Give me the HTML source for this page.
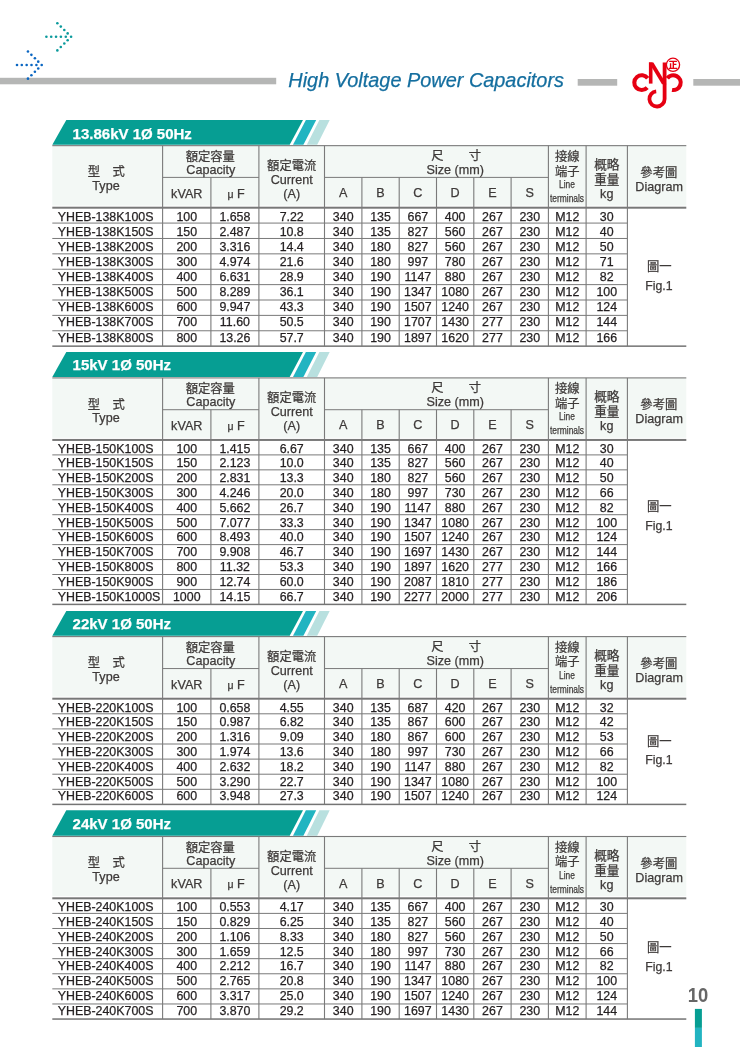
<!DOCTYPE html>
<html lang="zh-Hant"><head><meta charset="utf-8"><title>High Voltage Power Capacitors</title>
<style>
html,body{margin:0;padding:0;background:#fff;}
body{width:740px;height:1047px;overflow:hidden;position:relative;font-family:"Liberation Sans", "Noto Sans CJK TC", sans-serif;}
#pg div{-webkit-text-stroke:0.25px currentColor;}
#pg{position:absolute;left:0;top:0;width:740px;height:1047px;overflow:hidden;background:#fff;will-change:transform;}
</style></head><body><div id="pg">
<svg style="position:absolute;left:0;top:0" width="740" height="1047" viewBox="0 0 740 1047">
<rect x="0.00" y="77.80" width="276.20" height="6.50" fill="#b5b6b5"/>
<rect x="577.70" y="79.00" width="39.50" height="6.70" fill="#b5b6b5"/>
<rect x="693.30" y="79.00" width="46.70" height="6.70" fill="#b5b6b5"/>
<polygon points="66.3,119.90 303,119.90 289.7,144.85 52.3,144.85" fill="#069e93"/><polygon points="305.9,119.90 316.2,119.90 303.4,144.85 293,144.85" fill="#22b4c1"/><polygon points="319.4,119.90 329.7,119.90 317.2,144.85 306.8,144.85" fill="#b8e0df"/>
<rect x="52.30" y="145.65" width="634.00" height="59.90" fill="#f3f8f5"/>
<rect x="52.30" y="145.10" width="634.00" height="1.10" fill="#7a7a7a"/>
<rect x="162.60" y="176.90" width="96.30" height="1.00" fill="#7a7a7a"/>
<rect x="324.50" y="176.90" width="223.90" height="1.00" fill="#7a7a7a"/>
<rect x="52.30" y="206.70" width="634.00" height="2.00" fill="#787878"/>
<rect x="52.30" y="222.58" width="575.10" height="1.00" fill="#7a7a7a"/>
<rect x="52.30" y="237.97" width="575.10" height="1.00" fill="#7a7a7a"/>
<rect x="52.30" y="253.35" width="575.10" height="1.00" fill="#7a7a7a"/>
<rect x="52.30" y="268.73" width="575.10" height="1.00" fill="#7a7a7a"/>
<rect x="52.30" y="284.12" width="575.10" height="1.00" fill="#7a7a7a"/>
<rect x="52.30" y="299.50" width="575.10" height="1.00" fill="#7a7a7a"/>
<rect x="52.30" y="314.88" width="575.10" height="1.00" fill="#7a7a7a"/>
<rect x="52.30" y="330.27" width="575.10" height="1.00" fill="#7a7a7a"/>
<rect x="52.30" y="345.40" width="634.00" height="1.50" fill="#747474"/>
<rect x="162.05" y="145.65" width="1.10" height="200.50" fill="#7a7a7a"/>
<rect x="210.35" y="177.40" width="1.10" height="168.75" fill="#7a7a7a"/>
<rect x="258.35" y="145.65" width="1.10" height="200.50" fill="#7a7a7a"/>
<rect x="323.95" y="145.65" width="1.10" height="200.50" fill="#7a7a7a"/>
<rect x="361.35" y="177.40" width="1.10" height="168.75" fill="#7a7a7a"/>
<rect x="398.65" y="177.40" width="1.10" height="168.75" fill="#7a7a7a"/>
<rect x="435.95" y="177.40" width="1.10" height="168.75" fill="#7a7a7a"/>
<rect x="473.25" y="177.40" width="1.10" height="168.75" fill="#7a7a7a"/>
<rect x="510.55" y="177.40" width="1.10" height="168.75" fill="#7a7a7a"/>
<rect x="547.85" y="145.65" width="1.10" height="200.50" fill="#7a7a7a"/>
<rect x="585.55" y="145.65" width="1.10" height="200.50" fill="#7a7a7a"/>
<rect x="626.85" y="145.65" width="1.10" height="200.50" fill="#7a7a7a"/>
<polygon points="66.3,351.90 303,351.90 289.7,377.00 52.3,377.00" fill="#069e93"/><polygon points="305.9,351.90 316.2,351.90 303.4,377.00 293,377.00" fill="#22b4c1"/><polygon points="319.4,351.90 329.7,351.90 317.2,377.00 306.8,377.00" fill="#b8e0df"/>
<rect x="52.30" y="377.90" width="634.00" height="59.90" fill="#f3f8f5"/>
<rect x="52.30" y="377.35" width="634.00" height="1.10" fill="#7a7a7a"/>
<rect x="162.60" y="409.20" width="96.30" height="1.00" fill="#7a7a7a"/>
<rect x="324.50" y="409.20" width="223.90" height="1.00" fill="#7a7a7a"/>
<rect x="52.30" y="438.95" width="634.00" height="2.00" fill="#787878"/>
<rect x="52.30" y="454.40" width="575.10" height="1.00" fill="#7a7a7a"/>
<rect x="52.30" y="469.35" width="575.10" height="1.00" fill="#7a7a7a"/>
<rect x="52.30" y="484.30" width="575.10" height="1.00" fill="#7a7a7a"/>
<rect x="52.30" y="499.25" width="575.10" height="1.00" fill="#7a7a7a"/>
<rect x="52.30" y="514.20" width="575.10" height="1.00" fill="#7a7a7a"/>
<rect x="52.30" y="529.15" width="575.10" height="1.00" fill="#7a7a7a"/>
<rect x="52.30" y="544.10" width="575.10" height="1.00" fill="#7a7a7a"/>
<rect x="52.30" y="559.05" width="575.10" height="1.00" fill="#7a7a7a"/>
<rect x="52.30" y="574.00" width="575.10" height="1.00" fill="#7a7a7a"/>
<rect x="52.30" y="588.95" width="575.10" height="1.00" fill="#7a7a7a"/>
<rect x="52.30" y="603.65" width="634.00" height="1.50" fill="#747474"/>
<rect x="162.05" y="377.90" width="1.10" height="226.50" fill="#7a7a7a"/>
<rect x="210.35" y="409.70" width="1.10" height="194.70" fill="#7a7a7a"/>
<rect x="258.35" y="377.90" width="1.10" height="226.50" fill="#7a7a7a"/>
<rect x="323.95" y="377.90" width="1.10" height="226.50" fill="#7a7a7a"/>
<rect x="361.35" y="409.70" width="1.10" height="194.70" fill="#7a7a7a"/>
<rect x="398.65" y="409.70" width="1.10" height="194.70" fill="#7a7a7a"/>
<rect x="435.95" y="409.70" width="1.10" height="194.70" fill="#7a7a7a"/>
<rect x="473.25" y="409.70" width="1.10" height="194.70" fill="#7a7a7a"/>
<rect x="510.55" y="409.70" width="1.10" height="194.70" fill="#7a7a7a"/>
<rect x="547.85" y="377.90" width="1.10" height="226.50" fill="#7a7a7a"/>
<rect x="585.55" y="377.90" width="1.10" height="226.50" fill="#7a7a7a"/>
<rect x="626.85" y="377.90" width="1.10" height="226.50" fill="#7a7a7a"/>
<polygon points="66.3,610.90 303,610.90 289.7,635.80 52.3,635.80" fill="#069e93"/><polygon points="305.9,610.90 316.2,610.90 303.4,635.80 293,635.80" fill="#22b4c1"/><polygon points="319.4,610.90 329.7,610.90 317.2,635.80 306.8,635.80" fill="#b8e0df"/>
<rect x="52.30" y="636.60" width="634.00" height="59.95" fill="#f3f8f5"/>
<rect x="52.30" y="636.05" width="634.00" height="1.10" fill="#7a7a7a"/>
<rect x="162.60" y="668.05" width="96.30" height="1.00" fill="#7a7a7a"/>
<rect x="324.50" y="668.05" width="223.90" height="1.00" fill="#7a7a7a"/>
<rect x="52.30" y="697.70" width="634.00" height="2.00" fill="#787878"/>
<rect x="52.30" y="713.30" width="575.10" height="1.00" fill="#7a7a7a"/>
<rect x="52.30" y="728.40" width="575.10" height="1.00" fill="#7a7a7a"/>
<rect x="52.30" y="743.50" width="575.10" height="1.00" fill="#7a7a7a"/>
<rect x="52.30" y="758.60" width="575.10" height="1.00" fill="#7a7a7a"/>
<rect x="52.30" y="773.70" width="575.10" height="1.00" fill="#7a7a7a"/>
<rect x="52.30" y="788.80" width="575.10" height="1.00" fill="#7a7a7a"/>
<rect x="52.30" y="803.65" width="634.00" height="1.50" fill="#747474"/>
<rect x="162.05" y="636.60" width="1.10" height="167.80" fill="#7a7a7a"/>
<rect x="210.35" y="668.55" width="1.10" height="135.85" fill="#7a7a7a"/>
<rect x="258.35" y="636.60" width="1.10" height="167.80" fill="#7a7a7a"/>
<rect x="323.95" y="636.60" width="1.10" height="167.80" fill="#7a7a7a"/>
<rect x="361.35" y="668.55" width="1.10" height="135.85" fill="#7a7a7a"/>
<rect x="398.65" y="668.55" width="1.10" height="135.85" fill="#7a7a7a"/>
<rect x="435.95" y="668.55" width="1.10" height="135.85" fill="#7a7a7a"/>
<rect x="473.25" y="668.55" width="1.10" height="135.85" fill="#7a7a7a"/>
<rect x="510.55" y="668.55" width="1.10" height="135.85" fill="#7a7a7a"/>
<rect x="547.85" y="636.60" width="1.10" height="167.80" fill="#7a7a7a"/>
<rect x="585.55" y="636.60" width="1.10" height="167.80" fill="#7a7a7a"/>
<rect x="626.85" y="636.60" width="1.10" height="167.80" fill="#7a7a7a"/>
<polygon points="66.3,810.30 303,810.30 289.7,835.75 52.3,835.75" fill="#069e93"/><polygon points="305.9,810.30 316.2,810.30 303.4,835.75 293,835.75" fill="#22b4c1"/><polygon points="319.4,810.30 329.7,810.30 317.2,835.75 306.8,835.75" fill="#b8e0df"/>
<rect x="52.30" y="836.50" width="634.00" height="59.65" fill="#f3f8f5"/>
<rect x="52.30" y="835.95" width="634.00" height="1.10" fill="#7a7a7a"/>
<rect x="162.60" y="867.80" width="96.30" height="1.00" fill="#7a7a7a"/>
<rect x="324.50" y="867.80" width="223.90" height="1.00" fill="#7a7a7a"/>
<rect x="52.30" y="897.30" width="634.00" height="2.00" fill="#787878"/>
<rect x="52.30" y="912.89" width="575.10" height="1.00" fill="#7a7a7a"/>
<rect x="52.30" y="927.99" width="575.10" height="1.00" fill="#7a7a7a"/>
<rect x="52.30" y="943.08" width="575.10" height="1.00" fill="#7a7a7a"/>
<rect x="52.30" y="958.17" width="575.10" height="1.00" fill="#7a7a7a"/>
<rect x="52.30" y="973.27" width="575.10" height="1.00" fill="#7a7a7a"/>
<rect x="52.30" y="988.36" width="575.10" height="1.00" fill="#7a7a7a"/>
<rect x="52.30" y="1003.46" width="575.10" height="1.00" fill="#7a7a7a"/>
<rect x="52.30" y="1018.30" width="634.00" height="1.50" fill="#747474"/>
<rect x="162.05" y="836.50" width="1.10" height="182.55" fill="#7a7a7a"/>
<rect x="210.35" y="868.30" width="1.10" height="150.75" fill="#7a7a7a"/>
<rect x="258.35" y="836.50" width="1.10" height="182.55" fill="#7a7a7a"/>
<rect x="323.95" y="836.50" width="1.10" height="182.55" fill="#7a7a7a"/>
<rect x="361.35" y="868.30" width="1.10" height="150.75" fill="#7a7a7a"/>
<rect x="398.65" y="868.30" width="1.10" height="150.75" fill="#7a7a7a"/>
<rect x="435.95" y="868.30" width="1.10" height="150.75" fill="#7a7a7a"/>
<rect x="473.25" y="868.30" width="1.10" height="150.75" fill="#7a7a7a"/>
<rect x="510.55" y="868.30" width="1.10" height="150.75" fill="#7a7a7a"/>
<rect x="547.85" y="836.50" width="1.10" height="182.55" fill="#7a7a7a"/>
<rect x="585.55" y="836.50" width="1.10" height="182.55" fill="#7a7a7a"/>
<rect x="626.85" y="836.50" width="1.10" height="182.55" fill="#7a7a7a"/>
<rect x="694.90" y="1008.90" width="7.00" height="19.00" fill="#069e93"/>
<rect x="694.90" y="1027.90" width="7.00" height="20.00" fill="#22b4c1"/>
</svg>
<div style="position:absolute;left:288.30px;top:70.00px;line-height:20.0px;font-size:19.9px;color:#146e9f;white-space:pre;font-style:italic;">High Voltage Power Capacitors</div>
<svg style="position:absolute;left:0;top:0" width="100" height="100" viewBox="0 0 100 100">
<circle cx="71.10" cy="36.80" r="1.3" fill="#0b9a9c"/><circle cx="65.80" cy="36.80" r="1.3" fill="#0b9a9c"/><circle cx="60.90" cy="36.80" r="1.3" fill="#0b9a9c"/><circle cx="56.05" cy="36.80" r="1.3" fill="#0b9a9c"/><circle cx="51.20" cy="36.80" r="1.3" fill="#0b9a9c"/><circle cx="46.40" cy="36.80" r="1.3" fill="#0b9a9c"/><circle cx="67.65" cy="33.38" r="1.3" fill="#0b9a9c"/><circle cx="67.65" cy="40.22" r="1.3" fill="#0b9a9c"/><circle cx="64.30" cy="30.07" r="1.3" fill="#0b9a9c"/><circle cx="64.30" cy="43.53" r="1.3" fill="#0b9a9c"/><circle cx="60.80" cy="26.60" r="1.3" fill="#0b9a9c"/><circle cx="60.80" cy="47.00" r="1.3" fill="#0b9a9c"/><circle cx="57.35" cy="23.19" r="1.3" fill="#0b9a9c"/><circle cx="57.35" cy="50.41" r="1.3" fill="#0b9a9c"/>
<circle cx="41.70" cy="65.05" r="1.3" fill="#0a66c2"/><circle cx="36.40" cy="65.05" r="1.3" fill="#0a66c2"/><circle cx="31.50" cy="65.05" r="1.3" fill="#0a66c2"/><circle cx="26.65" cy="65.05" r="1.3" fill="#0a66c2"/><circle cx="21.80" cy="65.05" r="1.3" fill="#0a66c2"/><circle cx="17.00" cy="65.05" r="1.3" fill="#0a66c2"/><circle cx="38.25" cy="61.63" r="1.3" fill="#0a66c2"/><circle cx="38.25" cy="68.47" r="1.3" fill="#0a66c2"/><circle cx="34.90" cy="58.32" r="1.3" fill="#0a66c2"/><circle cx="34.90" cy="71.78" r="1.3" fill="#0a66c2"/><circle cx="31.40" cy="54.85" r="1.3" fill="#0a66c2"/><circle cx="31.40" cy="75.25" r="1.3" fill="#0a66c2"/><circle cx="27.95" cy="51.44" r="1.3" fill="#0a66c2"/><circle cx="27.95" cy="78.66" r="1.3" fill="#0a66c2"/>
</svg>
<svg style="position:absolute;left:625px;top:50px" width="65" height="65" viewBox="625 50 65 65">
<g fill="none" stroke="#e60012" stroke-width="4.1" stroke-linecap="butt">
<path d="M 647.69 78.31 A 7.4 7.4 0 1 0 647.20 87.61"/>
<path d="M 667.31 78.31 A 7.4 7.4 0 1 1 672.02 89.95"/>
<path stroke-width="3.8" d="M 664.6 62.4 L 664.6 98.90 A 7.6 7.6 0 1 1 656.21 91.34"/>
<path stroke-width="3.6" d="M 650.7 62.4 L 650.7 83.6"/>
</g>
<polygon points="648.9,62.4 653.4,62.4 666.5,84.2 662.0,84.2" fill="#e60012"/>
<circle cx="673.0" cy="64.8" r="6.6" fill="none" stroke="#e60012" stroke-width="1.3"/>
<text x="673.0" y="68.3" text-anchor="middle" font-family='"Noto Sans CJK TC", sans-serif' font-weight="900" font-size="9" fill="#e60012">正</text>
</svg>
<div style="position:absolute;left:72.60px;top:124.00px;line-height:20.0px;font-size:15px;color:#fff;white-space:pre;font-weight:bold;">13.86kV 1Ø 50Hz</div>
<div style="position:absolute;left:106.30px;top:162.00px;line-height:20.0px;font-size:12.3px;color:#3e3a39;white-space:pre;transform:translateX(-50%);transform-origin:center center;">型　式</div>
<div style="position:absolute;left:106.00px;top:176.00px;line-height:20.0px;font-size:12.6px;color:#3e3a39;white-space:pre;transform:translateX(-50%);transform-origin:center center;">Type</div>
<div style="position:absolute;left:210.30px;top:147.00px;line-height:20.0px;font-size:12.3px;color:#3e3a39;white-space:pre;transform:translateX(-50%);transform-origin:center center;">額定容量</div>
<div style="position:absolute;left:210.80px;top:160.00px;line-height:20.0px;font-size:12.6px;color:#3e3a39;white-space:pre;transform:translateX(-50%);transform-origin:center center;">Capacity</div>
<div style="position:absolute;left:186.75px;top:184.00px;line-height:20.0px;font-size:12.6px;color:#3e3a39;white-space:pre;transform:translateX(-50%);transform-origin:center center;">kVAR</div>
<div style="position:absolute;left:235.60px;top:184.00px;line-height:20.0px;font-size:12.6px;color:#3e3a39;white-space:pre;transform:translateX(-50%);transform-origin:center center;"><span style="font-size:10.5px;margin-left:1px">μ</span> F</div>
<div style="position:absolute;left:291.70px;top:156.00px;line-height:20.0px;font-size:12.3px;color:#3e3a39;white-space:pre;transform:translateX(-50%);transform-origin:center center;">額定電流</div>
<div style="position:absolute;left:291.70px;top:170.00px;line-height:20.0px;font-size:12.6px;color:#3e3a39;white-space:pre;transform:translateX(-50%);transform-origin:center center;">Current</div>
<div style="position:absolute;left:291.70px;top:184.00px;line-height:20.0px;font-size:12.6px;color:#3e3a39;white-space:pre;transform:translateX(-50%);transform-origin:center center;">(A)</div>
<div style="position:absolute;left:437.30px;top:146.00px;line-height:20.0px;font-size:12.3px;color:#3e3a39;white-space:pre;transform:translateX(-50%);transform-origin:center center;">尺</div>
<div style="position:absolute;left:474.80px;top:146.00px;line-height:20.0px;font-size:12.3px;color:#3e3a39;white-space:pre;transform:translateX(-50%);transform-origin:center center;">寸</div>
<div style="position:absolute;left:455.30px;top:160.00px;line-height:20.0px;font-size:12.6px;color:#3e3a39;white-space:pre;transform:translateX(-50%);transform-origin:center center;">Size (mm)</div>
<div style="position:absolute;left:343.20px;top:183.00px;line-height:20.0px;font-size:12.6px;color:#3e3a39;white-space:pre;transform:translateX(-50%);transform-origin:center center;">A</div>
<div style="position:absolute;left:380.55px;top:183.00px;line-height:20.0px;font-size:12.6px;color:#3e3a39;white-space:pre;transform:translateX(-50%);transform-origin:center center;">B</div>
<div style="position:absolute;left:417.85px;top:183.00px;line-height:20.0px;font-size:12.6px;color:#3e3a39;white-space:pre;transform:translateX(-50%);transform-origin:center center;">C</div>
<div style="position:absolute;left:455.15px;top:183.00px;line-height:20.0px;font-size:12.6px;color:#3e3a39;white-space:pre;transform:translateX(-50%);transform-origin:center center;">D</div>
<div style="position:absolute;left:492.45px;top:183.00px;line-height:20.0px;font-size:12.6px;color:#3e3a39;white-space:pre;transform:translateX(-50%);transform-origin:center center;">E</div>
<div style="position:absolute;left:529.75px;top:183.00px;line-height:20.0px;font-size:12.6px;color:#3e3a39;white-space:pre;transform:translateX(-50%);transform-origin:center center;">S</div>
<div style="position:absolute;left:567.25px;top:147.00px;line-height:20.0px;font-size:12.3px;color:#3e3a39;white-space:pre;transform:translateX(-50%);transform-origin:center center;">接線</div>
<div style="position:absolute;left:567.25px;top:162.00px;line-height:20.0px;font-size:12.3px;color:#3e3a39;white-space:pre;transform:translateX(-50%);transform-origin:center center;">端子</div>
<div style="position:absolute;left:567.25px;top:174.00px;line-height:20.0px;font-size:10.8px;color:#3e3a39;white-space:pre;transform:translateX(-50%) scaleX(0.78);transform-origin:center center;">Line</div>
<div style="position:absolute;left:567.25px;top:188.00px;line-height:20.0px;font-size:10.8px;color:#3e3a39;white-space:pre;transform:translateX(-50%) scaleX(0.78);transform-origin:center center;">terminals</div>
<div style="position:absolute;left:606.75px;top:155.00px;line-height:20.0px;font-size:12.6px;color:#3e3a39;white-space:pre;transform:translateX(-50%);transform-origin:center center;">概略</div>
<div style="position:absolute;left:606.75px;top:170.00px;line-height:20.0px;font-size:12.6px;color:#3e3a39;white-space:pre;transform:translateX(-50%);transform-origin:center center;">重量</div>
<div style="position:absolute;left:606.75px;top:184.00px;line-height:20.0px;font-size:12.6px;color:#3e3a39;white-space:pre;transform:translateX(-50%);transform-origin:center center;">kg</div>
<div style="position:absolute;left:658.80px;top:163.00px;line-height:20.0px;font-size:12.3px;color:#3e3a39;white-space:pre;transform:translateX(-50%);transform-origin:center center;">參考圖</div>
<div style="position:absolute;left:659.10px;top:177.00px;line-height:20.0px;font-size:12.6px;color:#3e3a39;white-space:pre;transform:translateX(-50%);transform-origin:center center;">Diagram</div>
<div style="position:absolute;left:57.70px;top:207.00px;line-height:20.0px;font-size:12.4px;color:#231f20;white-space:pre;">YHEB-138K100S</div>
<div style="position:absolute;left:186.75px;top:207.00px;line-height:20.0px;font-size:12.4px;color:#231f20;white-space:pre;transform:translateX(-50%);transform-origin:center center;">100</div>
<div style="position:absolute;left:234.90px;top:207.00px;line-height:20.0px;font-size:12.4px;color:#231f20;white-space:pre;transform:translateX(-50%);transform-origin:center center;">1.658</div>
<div style="position:absolute;left:291.70px;top:207.00px;line-height:20.0px;font-size:12.4px;color:#231f20;white-space:pre;transform:translateX(-50%);transform-origin:center center;">7.22</div>
<div style="position:absolute;left:343.20px;top:207.00px;line-height:20.0px;font-size:12.4px;color:#231f20;white-space:pre;transform:translateX(-50%);transform-origin:center center;">340</div>
<div style="position:absolute;left:380.55px;top:207.00px;line-height:20.0px;font-size:12.4px;color:#231f20;white-space:pre;transform:translateX(-50%);transform-origin:center center;">135</div>
<div style="position:absolute;left:417.85px;top:207.00px;line-height:20.0px;font-size:12.4px;color:#231f20;white-space:pre;transform:translateX(-50%);transform-origin:center center;">667</div>
<div style="position:absolute;left:455.15px;top:207.00px;line-height:20.0px;font-size:12.4px;color:#231f20;white-space:pre;transform:translateX(-50%);transform-origin:center center;">400</div>
<div style="position:absolute;left:492.45px;top:207.00px;line-height:20.0px;font-size:12.4px;color:#231f20;white-space:pre;transform:translateX(-50%);transform-origin:center center;">267</div>
<div style="position:absolute;left:529.75px;top:207.00px;line-height:20.0px;font-size:12.4px;color:#231f20;white-space:pre;transform:translateX(-50%);transform-origin:center center;">230</div>
<div style="position:absolute;left:567.25px;top:207.00px;line-height:20.0px;font-size:12.4px;color:#231f20;white-space:pre;transform:translateX(-50%);transform-origin:center center;">M12</div>
<div style="position:absolute;left:606.75px;top:207.00px;line-height:20.0px;font-size:12.4px;color:#231f20;white-space:pre;transform:translateX(-50%);transform-origin:center center;">30</div>
<div style="position:absolute;left:57.70px;top:222.00px;line-height:20.0px;font-size:12.4px;color:#231f20;white-space:pre;">YHEB-138K150S</div>
<div style="position:absolute;left:186.75px;top:222.00px;line-height:20.0px;font-size:12.4px;color:#231f20;white-space:pre;transform:translateX(-50%);transform-origin:center center;">150</div>
<div style="position:absolute;left:234.90px;top:222.00px;line-height:20.0px;font-size:12.4px;color:#231f20;white-space:pre;transform:translateX(-50%);transform-origin:center center;">2.487</div>
<div style="position:absolute;left:291.70px;top:222.00px;line-height:20.0px;font-size:12.4px;color:#231f20;white-space:pre;transform:translateX(-50%);transform-origin:center center;">10.8</div>
<div style="position:absolute;left:343.20px;top:222.00px;line-height:20.0px;font-size:12.4px;color:#231f20;white-space:pre;transform:translateX(-50%);transform-origin:center center;">340</div>
<div style="position:absolute;left:380.55px;top:222.00px;line-height:20.0px;font-size:12.4px;color:#231f20;white-space:pre;transform:translateX(-50%);transform-origin:center center;">135</div>
<div style="position:absolute;left:417.85px;top:222.00px;line-height:20.0px;font-size:12.4px;color:#231f20;white-space:pre;transform:translateX(-50%);transform-origin:center center;">827</div>
<div style="position:absolute;left:455.15px;top:222.00px;line-height:20.0px;font-size:12.4px;color:#231f20;white-space:pre;transform:translateX(-50%);transform-origin:center center;">560</div>
<div style="position:absolute;left:492.45px;top:222.00px;line-height:20.0px;font-size:12.4px;color:#231f20;white-space:pre;transform:translateX(-50%);transform-origin:center center;">267</div>
<div style="position:absolute;left:529.75px;top:222.00px;line-height:20.0px;font-size:12.4px;color:#231f20;white-space:pre;transform:translateX(-50%);transform-origin:center center;">230</div>
<div style="position:absolute;left:567.25px;top:222.00px;line-height:20.0px;font-size:12.4px;color:#231f20;white-space:pre;transform:translateX(-50%);transform-origin:center center;">M12</div>
<div style="position:absolute;left:606.75px;top:222.00px;line-height:20.0px;font-size:12.4px;color:#231f20;white-space:pre;transform:translateX(-50%);transform-origin:center center;">40</div>
<div style="position:absolute;left:57.70px;top:237.00px;line-height:20.0px;font-size:12.4px;color:#231f20;white-space:pre;">YHEB-138K200S</div>
<div style="position:absolute;left:186.75px;top:237.00px;line-height:20.0px;font-size:12.4px;color:#231f20;white-space:pre;transform:translateX(-50%);transform-origin:center center;">200</div>
<div style="position:absolute;left:234.90px;top:237.00px;line-height:20.0px;font-size:12.4px;color:#231f20;white-space:pre;transform:translateX(-50%);transform-origin:center center;">3.316</div>
<div style="position:absolute;left:291.70px;top:237.00px;line-height:20.0px;font-size:12.4px;color:#231f20;white-space:pre;transform:translateX(-50%);transform-origin:center center;">14.4</div>
<div style="position:absolute;left:343.20px;top:237.00px;line-height:20.0px;font-size:12.4px;color:#231f20;white-space:pre;transform:translateX(-50%);transform-origin:center center;">340</div>
<div style="position:absolute;left:380.55px;top:237.00px;line-height:20.0px;font-size:12.4px;color:#231f20;white-space:pre;transform:translateX(-50%);transform-origin:center center;">180</div>
<div style="position:absolute;left:417.85px;top:237.00px;line-height:20.0px;font-size:12.4px;color:#231f20;white-space:pre;transform:translateX(-50%);transform-origin:center center;">827</div>
<div style="position:absolute;left:455.15px;top:237.00px;line-height:20.0px;font-size:12.4px;color:#231f20;white-space:pre;transform:translateX(-50%);transform-origin:center center;">560</div>
<div style="position:absolute;left:492.45px;top:237.00px;line-height:20.0px;font-size:12.4px;color:#231f20;white-space:pre;transform:translateX(-50%);transform-origin:center center;">267</div>
<div style="position:absolute;left:529.75px;top:237.00px;line-height:20.0px;font-size:12.4px;color:#231f20;white-space:pre;transform:translateX(-50%);transform-origin:center center;">230</div>
<div style="position:absolute;left:567.25px;top:237.00px;line-height:20.0px;font-size:12.4px;color:#231f20;white-space:pre;transform:translateX(-50%);transform-origin:center center;">M12</div>
<div style="position:absolute;left:606.75px;top:237.00px;line-height:20.0px;font-size:12.4px;color:#231f20;white-space:pre;transform:translateX(-50%);transform-origin:center center;">50</div>
<div style="position:absolute;left:57.70px;top:252.00px;line-height:20.0px;font-size:12.4px;color:#231f20;white-space:pre;">YHEB-138K300S</div>
<div style="position:absolute;left:186.75px;top:252.00px;line-height:20.0px;font-size:12.4px;color:#231f20;white-space:pre;transform:translateX(-50%);transform-origin:center center;">300</div>
<div style="position:absolute;left:234.90px;top:252.00px;line-height:20.0px;font-size:12.4px;color:#231f20;white-space:pre;transform:translateX(-50%);transform-origin:center center;">4.974</div>
<div style="position:absolute;left:291.70px;top:252.00px;line-height:20.0px;font-size:12.4px;color:#231f20;white-space:pre;transform:translateX(-50%);transform-origin:center center;">21.6</div>
<div style="position:absolute;left:343.20px;top:252.00px;line-height:20.0px;font-size:12.4px;color:#231f20;white-space:pre;transform:translateX(-50%);transform-origin:center center;">340</div>
<div style="position:absolute;left:380.55px;top:252.00px;line-height:20.0px;font-size:12.4px;color:#231f20;white-space:pre;transform:translateX(-50%);transform-origin:center center;">180</div>
<div style="position:absolute;left:417.85px;top:252.00px;line-height:20.0px;font-size:12.4px;color:#231f20;white-space:pre;transform:translateX(-50%);transform-origin:center center;">997</div>
<div style="position:absolute;left:455.15px;top:252.00px;line-height:20.0px;font-size:12.4px;color:#231f20;white-space:pre;transform:translateX(-50%);transform-origin:center center;">780</div>
<div style="position:absolute;left:492.45px;top:252.00px;line-height:20.0px;font-size:12.4px;color:#231f20;white-space:pre;transform:translateX(-50%);transform-origin:center center;">267</div>
<div style="position:absolute;left:529.75px;top:252.00px;line-height:20.0px;font-size:12.4px;color:#231f20;white-space:pre;transform:translateX(-50%);transform-origin:center center;">230</div>
<div style="position:absolute;left:567.25px;top:252.00px;line-height:20.0px;font-size:12.4px;color:#231f20;white-space:pre;transform:translateX(-50%);transform-origin:center center;">M12</div>
<div style="position:absolute;left:606.75px;top:252.00px;line-height:20.0px;font-size:12.4px;color:#231f20;white-space:pre;transform:translateX(-50%);transform-origin:center center;">71</div>
<div style="position:absolute;left:57.70px;top:267.00px;line-height:20.0px;font-size:12.4px;color:#231f20;white-space:pre;">YHEB-138K400S</div>
<div style="position:absolute;left:186.75px;top:267.00px;line-height:20.0px;font-size:12.4px;color:#231f20;white-space:pre;transform:translateX(-50%);transform-origin:center center;">400</div>
<div style="position:absolute;left:234.90px;top:267.00px;line-height:20.0px;font-size:12.4px;color:#231f20;white-space:pre;transform:translateX(-50%);transform-origin:center center;">6.631</div>
<div style="position:absolute;left:291.70px;top:267.00px;line-height:20.0px;font-size:12.4px;color:#231f20;white-space:pre;transform:translateX(-50%);transform-origin:center center;">28.9</div>
<div style="position:absolute;left:343.20px;top:267.00px;line-height:20.0px;font-size:12.4px;color:#231f20;white-space:pre;transform:translateX(-50%);transform-origin:center center;">340</div>
<div style="position:absolute;left:380.55px;top:267.00px;line-height:20.0px;font-size:12.4px;color:#231f20;white-space:pre;transform:translateX(-50%);transform-origin:center center;">190</div>
<div style="position:absolute;left:417.85px;top:267.00px;line-height:20.0px;font-size:12.4px;color:#231f20;white-space:pre;transform:translateX(-50%);transform-origin:center center;">1147</div>
<div style="position:absolute;left:455.15px;top:267.00px;line-height:20.0px;font-size:12.4px;color:#231f20;white-space:pre;transform:translateX(-50%);transform-origin:center center;">880</div>
<div style="position:absolute;left:492.45px;top:267.00px;line-height:20.0px;font-size:12.4px;color:#231f20;white-space:pre;transform:translateX(-50%);transform-origin:center center;">267</div>
<div style="position:absolute;left:529.75px;top:267.00px;line-height:20.0px;font-size:12.4px;color:#231f20;white-space:pre;transform:translateX(-50%);transform-origin:center center;">230</div>
<div style="position:absolute;left:567.25px;top:267.00px;line-height:20.0px;font-size:12.4px;color:#231f20;white-space:pre;transform:translateX(-50%);transform-origin:center center;">M12</div>
<div style="position:absolute;left:606.75px;top:267.00px;line-height:20.0px;font-size:12.4px;color:#231f20;white-space:pre;transform:translateX(-50%);transform-origin:center center;">82</div>
<div style="position:absolute;left:57.70px;top:282.00px;line-height:20.0px;font-size:12.4px;color:#231f20;white-space:pre;">YHEB-138K500S</div>
<div style="position:absolute;left:186.75px;top:282.00px;line-height:20.0px;font-size:12.4px;color:#231f20;white-space:pre;transform:translateX(-50%);transform-origin:center center;">500</div>
<div style="position:absolute;left:234.90px;top:282.00px;line-height:20.0px;font-size:12.4px;color:#231f20;white-space:pre;transform:translateX(-50%);transform-origin:center center;">8.289</div>
<div style="position:absolute;left:291.70px;top:282.00px;line-height:20.0px;font-size:12.4px;color:#231f20;white-space:pre;transform:translateX(-50%);transform-origin:center center;">36.1</div>
<div style="position:absolute;left:343.20px;top:282.00px;line-height:20.0px;font-size:12.4px;color:#231f20;white-space:pre;transform:translateX(-50%);transform-origin:center center;">340</div>
<div style="position:absolute;left:380.55px;top:282.00px;line-height:20.0px;font-size:12.4px;color:#231f20;white-space:pre;transform:translateX(-50%);transform-origin:center center;">190</div>
<div style="position:absolute;left:417.85px;top:282.00px;line-height:20.0px;font-size:12.4px;color:#231f20;white-space:pre;transform:translateX(-50%);transform-origin:center center;">1347</div>
<div style="position:absolute;left:455.15px;top:282.00px;line-height:20.0px;font-size:12.4px;color:#231f20;white-space:pre;transform:translateX(-50%);transform-origin:center center;">1080</div>
<div style="position:absolute;left:492.45px;top:282.00px;line-height:20.0px;font-size:12.4px;color:#231f20;white-space:pre;transform:translateX(-50%);transform-origin:center center;">267</div>
<div style="position:absolute;left:529.75px;top:282.00px;line-height:20.0px;font-size:12.4px;color:#231f20;white-space:pre;transform:translateX(-50%);transform-origin:center center;">230</div>
<div style="position:absolute;left:567.25px;top:282.00px;line-height:20.0px;font-size:12.4px;color:#231f20;white-space:pre;transform:translateX(-50%);transform-origin:center center;">M12</div>
<div style="position:absolute;left:606.75px;top:282.00px;line-height:20.0px;font-size:12.4px;color:#231f20;white-space:pre;transform:translateX(-50%);transform-origin:center center;">100</div>
<div style="position:absolute;left:57.70px;top:297.00px;line-height:20.0px;font-size:12.4px;color:#231f20;white-space:pre;">YHEB-138K600S</div>
<div style="position:absolute;left:186.75px;top:297.00px;line-height:20.0px;font-size:12.4px;color:#231f20;white-space:pre;transform:translateX(-50%);transform-origin:center center;">600</div>
<div style="position:absolute;left:234.90px;top:297.00px;line-height:20.0px;font-size:12.4px;color:#231f20;white-space:pre;transform:translateX(-50%);transform-origin:center center;">9.947</div>
<div style="position:absolute;left:291.70px;top:297.00px;line-height:20.0px;font-size:12.4px;color:#231f20;white-space:pre;transform:translateX(-50%);transform-origin:center center;">43.3</div>
<div style="position:absolute;left:343.20px;top:297.00px;line-height:20.0px;font-size:12.4px;color:#231f20;white-space:pre;transform:translateX(-50%);transform-origin:center center;">340</div>
<div style="position:absolute;left:380.55px;top:297.00px;line-height:20.0px;font-size:12.4px;color:#231f20;white-space:pre;transform:translateX(-50%);transform-origin:center center;">190</div>
<div style="position:absolute;left:417.85px;top:297.00px;line-height:20.0px;font-size:12.4px;color:#231f20;white-space:pre;transform:translateX(-50%);transform-origin:center center;">1507</div>
<div style="position:absolute;left:455.15px;top:297.00px;line-height:20.0px;font-size:12.4px;color:#231f20;white-space:pre;transform:translateX(-50%);transform-origin:center center;">1240</div>
<div style="position:absolute;left:492.45px;top:297.00px;line-height:20.0px;font-size:12.4px;color:#231f20;white-space:pre;transform:translateX(-50%);transform-origin:center center;">267</div>
<div style="position:absolute;left:529.75px;top:297.00px;line-height:20.0px;font-size:12.4px;color:#231f20;white-space:pre;transform:translateX(-50%);transform-origin:center center;">230</div>
<div style="position:absolute;left:567.25px;top:297.00px;line-height:20.0px;font-size:12.4px;color:#231f20;white-space:pre;transform:translateX(-50%);transform-origin:center center;">M12</div>
<div style="position:absolute;left:606.75px;top:297.00px;line-height:20.0px;font-size:12.4px;color:#231f20;white-space:pre;transform:translateX(-50%);transform-origin:center center;">124</div>
<div style="position:absolute;left:57.70px;top:312.00px;line-height:20.0px;font-size:12.4px;color:#231f20;white-space:pre;">YHEB-138K700S</div>
<div style="position:absolute;left:186.75px;top:312.00px;line-height:20.0px;font-size:12.4px;color:#231f20;white-space:pre;transform:translateX(-50%);transform-origin:center center;">700</div>
<div style="position:absolute;left:234.90px;top:312.00px;line-height:20.0px;font-size:12.4px;color:#231f20;white-space:pre;transform:translateX(-50%);transform-origin:center center;">11.60</div>
<div style="position:absolute;left:291.70px;top:312.00px;line-height:20.0px;font-size:12.4px;color:#231f20;white-space:pre;transform:translateX(-50%);transform-origin:center center;">50.5</div>
<div style="position:absolute;left:343.20px;top:312.00px;line-height:20.0px;font-size:12.4px;color:#231f20;white-space:pre;transform:translateX(-50%);transform-origin:center center;">340</div>
<div style="position:absolute;left:380.55px;top:312.00px;line-height:20.0px;font-size:12.4px;color:#231f20;white-space:pre;transform:translateX(-50%);transform-origin:center center;">190</div>
<div style="position:absolute;left:417.85px;top:312.00px;line-height:20.0px;font-size:12.4px;color:#231f20;white-space:pre;transform:translateX(-50%);transform-origin:center center;">1707</div>
<div style="position:absolute;left:455.15px;top:312.00px;line-height:20.0px;font-size:12.4px;color:#231f20;white-space:pre;transform:translateX(-50%);transform-origin:center center;">1430</div>
<div style="position:absolute;left:492.45px;top:312.00px;line-height:20.0px;font-size:12.4px;color:#231f20;white-space:pre;transform:translateX(-50%);transform-origin:center center;">277</div>
<div style="position:absolute;left:529.75px;top:312.00px;line-height:20.0px;font-size:12.4px;color:#231f20;white-space:pre;transform:translateX(-50%);transform-origin:center center;">230</div>
<div style="position:absolute;left:567.25px;top:312.00px;line-height:20.0px;font-size:12.4px;color:#231f20;white-space:pre;transform:translateX(-50%);transform-origin:center center;">M12</div>
<div style="position:absolute;left:606.75px;top:312.00px;line-height:20.0px;font-size:12.4px;color:#231f20;white-space:pre;transform:translateX(-50%);transform-origin:center center;">144</div>
<div style="position:absolute;left:57.70px;top:328.00px;line-height:20.0px;font-size:12.4px;color:#231f20;white-space:pre;">YHEB-138K800S</div>
<div style="position:absolute;left:186.75px;top:328.00px;line-height:20.0px;font-size:12.4px;color:#231f20;white-space:pre;transform:translateX(-50%);transform-origin:center center;">800</div>
<div style="position:absolute;left:234.90px;top:328.00px;line-height:20.0px;font-size:12.4px;color:#231f20;white-space:pre;transform:translateX(-50%);transform-origin:center center;">13.26</div>
<div style="position:absolute;left:291.70px;top:328.00px;line-height:20.0px;font-size:12.4px;color:#231f20;white-space:pre;transform:translateX(-50%);transform-origin:center center;">57.7</div>
<div style="position:absolute;left:343.20px;top:328.00px;line-height:20.0px;font-size:12.4px;color:#231f20;white-space:pre;transform:translateX(-50%);transform-origin:center center;">340</div>
<div style="position:absolute;left:380.55px;top:328.00px;line-height:20.0px;font-size:12.4px;color:#231f20;white-space:pre;transform:translateX(-50%);transform-origin:center center;">190</div>
<div style="position:absolute;left:417.85px;top:328.00px;line-height:20.0px;font-size:12.4px;color:#231f20;white-space:pre;transform:translateX(-50%);transform-origin:center center;">1897</div>
<div style="position:absolute;left:455.15px;top:328.00px;line-height:20.0px;font-size:12.4px;color:#231f20;white-space:pre;transform:translateX(-50%);transform-origin:center center;">1620</div>
<div style="position:absolute;left:492.45px;top:328.00px;line-height:20.0px;font-size:12.4px;color:#231f20;white-space:pre;transform:translateX(-50%);transform-origin:center center;">277</div>
<div style="position:absolute;left:529.75px;top:328.00px;line-height:20.0px;font-size:12.4px;color:#231f20;white-space:pre;transform:translateX(-50%);transform-origin:center center;">230</div>
<div style="position:absolute;left:567.25px;top:328.00px;line-height:20.0px;font-size:12.4px;color:#231f20;white-space:pre;transform:translateX(-50%);transform-origin:center center;">M12</div>
<div style="position:absolute;left:606.75px;top:328.00px;line-height:20.0px;font-size:12.4px;color:#231f20;white-space:pre;transform:translateX(-50%);transform-origin:center center;">166</div>
<div style="position:absolute;left:659.30px;top:257.00px;line-height:20.0px;font-size:12.3px;color:#3e3a39;white-space:pre;transform:translateX(-50%);transform-origin:center center;">圖一</div>
<div style="position:absolute;left:658.90px;top:276.00px;line-height:20.0px;font-size:12.3px;color:#3e3a39;white-space:pre;transform:translateX(-50%);transform-origin:center center;">Fig.1</div>
<div style="position:absolute;left:72.60px;top:355.00px;line-height:20.0px;font-size:15px;color:#fff;white-space:pre;font-weight:bold;">15kV 1Ø 50Hz</div>
<div style="position:absolute;left:106.30px;top:395.00px;line-height:20.0px;font-size:12.3px;color:#3e3a39;white-space:pre;transform:translateX(-50%);transform-origin:center center;">型　式</div>
<div style="position:absolute;left:106.00px;top:408.00px;line-height:20.0px;font-size:12.6px;color:#3e3a39;white-space:pre;transform:translateX(-50%);transform-origin:center center;">Type</div>
<div style="position:absolute;left:210.30px;top:379.00px;line-height:20.0px;font-size:12.3px;color:#3e3a39;white-space:pre;transform:translateX(-50%);transform-origin:center center;">額定容量</div>
<div style="position:absolute;left:210.80px;top:392.00px;line-height:20.0px;font-size:12.6px;color:#3e3a39;white-space:pre;transform:translateX(-50%);transform-origin:center center;">Capacity</div>
<div style="position:absolute;left:186.75px;top:416.00px;line-height:20.0px;font-size:12.6px;color:#3e3a39;white-space:pre;transform:translateX(-50%);transform-origin:center center;">kVAR</div>
<div style="position:absolute;left:235.60px;top:416.00px;line-height:20.0px;font-size:12.6px;color:#3e3a39;white-space:pre;transform:translateX(-50%);transform-origin:center center;"><span style="font-size:10.5px;margin-left:1px">μ</span> F</div>
<div style="position:absolute;left:291.70px;top:388.00px;line-height:20.0px;font-size:12.3px;color:#3e3a39;white-space:pre;transform:translateX(-50%);transform-origin:center center;">額定電流</div>
<div style="position:absolute;left:291.70px;top:402.00px;line-height:20.0px;font-size:12.6px;color:#3e3a39;white-space:pre;transform:translateX(-50%);transform-origin:center center;">Current</div>
<div style="position:absolute;left:291.70px;top:416.00px;line-height:20.0px;font-size:12.6px;color:#3e3a39;white-space:pre;transform:translateX(-50%);transform-origin:center center;">(A)</div>
<div style="position:absolute;left:437.30px;top:378.00px;line-height:20.0px;font-size:12.3px;color:#3e3a39;white-space:pre;transform:translateX(-50%);transform-origin:center center;">尺</div>
<div style="position:absolute;left:474.80px;top:378.00px;line-height:20.0px;font-size:12.3px;color:#3e3a39;white-space:pre;transform:translateX(-50%);transform-origin:center center;">寸</div>
<div style="position:absolute;left:455.30px;top:392.00px;line-height:20.0px;font-size:12.6px;color:#3e3a39;white-space:pre;transform:translateX(-50%);transform-origin:center center;">Size (mm)</div>
<div style="position:absolute;left:343.20px;top:415.00px;line-height:20.0px;font-size:12.6px;color:#3e3a39;white-space:pre;transform:translateX(-50%);transform-origin:center center;">A</div>
<div style="position:absolute;left:380.55px;top:415.00px;line-height:20.0px;font-size:12.6px;color:#3e3a39;white-space:pre;transform:translateX(-50%);transform-origin:center center;">B</div>
<div style="position:absolute;left:417.85px;top:415.00px;line-height:20.0px;font-size:12.6px;color:#3e3a39;white-space:pre;transform:translateX(-50%);transform-origin:center center;">C</div>
<div style="position:absolute;left:455.15px;top:415.00px;line-height:20.0px;font-size:12.6px;color:#3e3a39;white-space:pre;transform:translateX(-50%);transform-origin:center center;">D</div>
<div style="position:absolute;left:492.45px;top:415.00px;line-height:20.0px;font-size:12.6px;color:#3e3a39;white-space:pre;transform:translateX(-50%);transform-origin:center center;">E</div>
<div style="position:absolute;left:529.75px;top:415.00px;line-height:20.0px;font-size:12.6px;color:#3e3a39;white-space:pre;transform:translateX(-50%);transform-origin:center center;">S</div>
<div style="position:absolute;left:567.25px;top:379.00px;line-height:20.0px;font-size:12.3px;color:#3e3a39;white-space:pre;transform:translateX(-50%);transform-origin:center center;">接線</div>
<div style="position:absolute;left:567.25px;top:394.00px;line-height:20.0px;font-size:12.3px;color:#3e3a39;white-space:pre;transform:translateX(-50%);transform-origin:center center;">端子</div>
<div style="position:absolute;left:567.25px;top:406.00px;line-height:20.0px;font-size:10.8px;color:#3e3a39;white-space:pre;transform:translateX(-50%) scaleX(0.78);transform-origin:center center;">Line</div>
<div style="position:absolute;left:567.25px;top:420.00px;line-height:20.0px;font-size:10.8px;color:#3e3a39;white-space:pre;transform:translateX(-50%) scaleX(0.78);transform-origin:center center;">terminals</div>
<div style="position:absolute;left:606.75px;top:387.00px;line-height:20.0px;font-size:12.6px;color:#3e3a39;white-space:pre;transform:translateX(-50%);transform-origin:center center;">概略</div>
<div style="position:absolute;left:606.75px;top:402.00px;line-height:20.0px;font-size:12.6px;color:#3e3a39;white-space:pre;transform:translateX(-50%);transform-origin:center center;">重量</div>
<div style="position:absolute;left:606.75px;top:416.00px;line-height:20.0px;font-size:12.6px;color:#3e3a39;white-space:pre;transform:translateX(-50%);transform-origin:center center;">kg</div>
<div style="position:absolute;left:658.80px;top:395.00px;line-height:20.0px;font-size:12.3px;color:#3e3a39;white-space:pre;transform:translateX(-50%);transform-origin:center center;">參考圖</div>
<div style="position:absolute;left:659.10px;top:409.00px;line-height:20.0px;font-size:12.6px;color:#3e3a39;white-space:pre;transform:translateX(-50%);transform-origin:center center;">Diagram</div>
<div style="position:absolute;left:57.70px;top:439.00px;line-height:20.0px;font-size:12.4px;color:#231f20;white-space:pre;">YHEB-150K100S</div>
<div style="position:absolute;left:186.75px;top:439.00px;line-height:20.0px;font-size:12.4px;color:#231f20;white-space:pre;transform:translateX(-50%);transform-origin:center center;">100</div>
<div style="position:absolute;left:234.90px;top:439.00px;line-height:20.0px;font-size:12.4px;color:#231f20;white-space:pre;transform:translateX(-50%);transform-origin:center center;">1.415</div>
<div style="position:absolute;left:291.70px;top:439.00px;line-height:20.0px;font-size:12.4px;color:#231f20;white-space:pre;transform:translateX(-50%);transform-origin:center center;">6.67</div>
<div style="position:absolute;left:343.20px;top:439.00px;line-height:20.0px;font-size:12.4px;color:#231f20;white-space:pre;transform:translateX(-50%);transform-origin:center center;">340</div>
<div style="position:absolute;left:380.55px;top:439.00px;line-height:20.0px;font-size:12.4px;color:#231f20;white-space:pre;transform:translateX(-50%);transform-origin:center center;">135</div>
<div style="position:absolute;left:417.85px;top:439.00px;line-height:20.0px;font-size:12.4px;color:#231f20;white-space:pre;transform:translateX(-50%);transform-origin:center center;">667</div>
<div style="position:absolute;left:455.15px;top:439.00px;line-height:20.0px;font-size:12.4px;color:#231f20;white-space:pre;transform:translateX(-50%);transform-origin:center center;">400</div>
<div style="position:absolute;left:492.45px;top:439.00px;line-height:20.0px;font-size:12.4px;color:#231f20;white-space:pre;transform:translateX(-50%);transform-origin:center center;">267</div>
<div style="position:absolute;left:529.75px;top:439.00px;line-height:20.0px;font-size:12.4px;color:#231f20;white-space:pre;transform:translateX(-50%);transform-origin:center center;">230</div>
<div style="position:absolute;left:567.25px;top:439.00px;line-height:20.0px;font-size:12.4px;color:#231f20;white-space:pre;transform:translateX(-50%);transform-origin:center center;">M12</div>
<div style="position:absolute;left:606.75px;top:439.00px;line-height:20.0px;font-size:12.4px;color:#231f20;white-space:pre;transform:translateX(-50%);transform-origin:center center;">30</div>
<div style="position:absolute;left:57.70px;top:453.00px;line-height:20.0px;font-size:12.4px;color:#231f20;white-space:pre;">YHEB-150K150S</div>
<div style="position:absolute;left:186.75px;top:453.00px;line-height:20.0px;font-size:12.4px;color:#231f20;white-space:pre;transform:translateX(-50%);transform-origin:center center;">150</div>
<div style="position:absolute;left:234.90px;top:453.00px;line-height:20.0px;font-size:12.4px;color:#231f20;white-space:pre;transform:translateX(-50%);transform-origin:center center;">2.123</div>
<div style="position:absolute;left:291.70px;top:453.00px;line-height:20.0px;font-size:12.4px;color:#231f20;white-space:pre;transform:translateX(-50%);transform-origin:center center;">10.0</div>
<div style="position:absolute;left:343.20px;top:453.00px;line-height:20.0px;font-size:12.4px;color:#231f20;white-space:pre;transform:translateX(-50%);transform-origin:center center;">340</div>
<div style="position:absolute;left:380.55px;top:453.00px;line-height:20.0px;font-size:12.4px;color:#231f20;white-space:pre;transform:translateX(-50%);transform-origin:center center;">135</div>
<div style="position:absolute;left:417.85px;top:453.00px;line-height:20.0px;font-size:12.4px;color:#231f20;white-space:pre;transform:translateX(-50%);transform-origin:center center;">827</div>
<div style="position:absolute;left:455.15px;top:453.00px;line-height:20.0px;font-size:12.4px;color:#231f20;white-space:pre;transform:translateX(-50%);transform-origin:center center;">560</div>
<div style="position:absolute;left:492.45px;top:453.00px;line-height:20.0px;font-size:12.4px;color:#231f20;white-space:pre;transform:translateX(-50%);transform-origin:center center;">267</div>
<div style="position:absolute;left:529.75px;top:453.00px;line-height:20.0px;font-size:12.4px;color:#231f20;white-space:pre;transform:translateX(-50%);transform-origin:center center;">230</div>
<div style="position:absolute;left:567.25px;top:453.00px;line-height:20.0px;font-size:12.4px;color:#231f20;white-space:pre;transform:translateX(-50%);transform-origin:center center;">M12</div>
<div style="position:absolute;left:606.75px;top:453.00px;line-height:20.0px;font-size:12.4px;color:#231f20;white-space:pre;transform:translateX(-50%);transform-origin:center center;">40</div>
<div style="position:absolute;left:57.70px;top:468.00px;line-height:20.0px;font-size:12.4px;color:#231f20;white-space:pre;">YHEB-150K200S</div>
<div style="position:absolute;left:186.75px;top:468.00px;line-height:20.0px;font-size:12.4px;color:#231f20;white-space:pre;transform:translateX(-50%);transform-origin:center center;">200</div>
<div style="position:absolute;left:234.90px;top:468.00px;line-height:20.0px;font-size:12.4px;color:#231f20;white-space:pre;transform:translateX(-50%);transform-origin:center center;">2.831</div>
<div style="position:absolute;left:291.70px;top:468.00px;line-height:20.0px;font-size:12.4px;color:#231f20;white-space:pre;transform:translateX(-50%);transform-origin:center center;">13.3</div>
<div style="position:absolute;left:343.20px;top:468.00px;line-height:20.0px;font-size:12.4px;color:#231f20;white-space:pre;transform:translateX(-50%);transform-origin:center center;">340</div>
<div style="position:absolute;left:380.55px;top:468.00px;line-height:20.0px;font-size:12.4px;color:#231f20;white-space:pre;transform:translateX(-50%);transform-origin:center center;">180</div>
<div style="position:absolute;left:417.85px;top:468.00px;line-height:20.0px;font-size:12.4px;color:#231f20;white-space:pre;transform:translateX(-50%);transform-origin:center center;">827</div>
<div style="position:absolute;left:455.15px;top:468.00px;line-height:20.0px;font-size:12.4px;color:#231f20;white-space:pre;transform:translateX(-50%);transform-origin:center center;">560</div>
<div style="position:absolute;left:492.45px;top:468.00px;line-height:20.0px;font-size:12.4px;color:#231f20;white-space:pre;transform:translateX(-50%);transform-origin:center center;">267</div>
<div style="position:absolute;left:529.75px;top:468.00px;line-height:20.0px;font-size:12.4px;color:#231f20;white-space:pre;transform:translateX(-50%);transform-origin:center center;">230</div>
<div style="position:absolute;left:567.25px;top:468.00px;line-height:20.0px;font-size:12.4px;color:#231f20;white-space:pre;transform:translateX(-50%);transform-origin:center center;">M12</div>
<div style="position:absolute;left:606.75px;top:468.00px;line-height:20.0px;font-size:12.4px;color:#231f20;white-space:pre;transform:translateX(-50%);transform-origin:center center;">50</div>
<div style="position:absolute;left:57.70px;top:483.00px;line-height:20.0px;font-size:12.4px;color:#231f20;white-space:pre;">YHEB-150K300S</div>
<div style="position:absolute;left:186.75px;top:483.00px;line-height:20.0px;font-size:12.4px;color:#231f20;white-space:pre;transform:translateX(-50%);transform-origin:center center;">300</div>
<div style="position:absolute;left:234.90px;top:483.00px;line-height:20.0px;font-size:12.4px;color:#231f20;white-space:pre;transform:translateX(-50%);transform-origin:center center;">4.246</div>
<div style="position:absolute;left:291.70px;top:483.00px;line-height:20.0px;font-size:12.4px;color:#231f20;white-space:pre;transform:translateX(-50%);transform-origin:center center;">20.0</div>
<div style="position:absolute;left:343.20px;top:483.00px;line-height:20.0px;font-size:12.4px;color:#231f20;white-space:pre;transform:translateX(-50%);transform-origin:center center;">340</div>
<div style="position:absolute;left:380.55px;top:483.00px;line-height:20.0px;font-size:12.4px;color:#231f20;white-space:pre;transform:translateX(-50%);transform-origin:center center;">180</div>
<div style="position:absolute;left:417.85px;top:483.00px;line-height:20.0px;font-size:12.4px;color:#231f20;white-space:pre;transform:translateX(-50%);transform-origin:center center;">997</div>
<div style="position:absolute;left:455.15px;top:483.00px;line-height:20.0px;font-size:12.4px;color:#231f20;white-space:pre;transform:translateX(-50%);transform-origin:center center;">730</div>
<div style="position:absolute;left:492.45px;top:483.00px;line-height:20.0px;font-size:12.4px;color:#231f20;white-space:pre;transform:translateX(-50%);transform-origin:center center;">267</div>
<div style="position:absolute;left:529.75px;top:483.00px;line-height:20.0px;font-size:12.4px;color:#231f20;white-space:pre;transform:translateX(-50%);transform-origin:center center;">230</div>
<div style="position:absolute;left:567.25px;top:483.00px;line-height:20.0px;font-size:12.4px;color:#231f20;white-space:pre;transform:translateX(-50%);transform-origin:center center;">M12</div>
<div style="position:absolute;left:606.75px;top:483.00px;line-height:20.0px;font-size:12.4px;color:#231f20;white-space:pre;transform:translateX(-50%);transform-origin:center center;">66</div>
<div style="position:absolute;left:57.70px;top:498.00px;line-height:20.0px;font-size:12.4px;color:#231f20;white-space:pre;">YHEB-150K400S</div>
<div style="position:absolute;left:186.75px;top:498.00px;line-height:20.0px;font-size:12.4px;color:#231f20;white-space:pre;transform:translateX(-50%);transform-origin:center center;">400</div>
<div style="position:absolute;left:234.90px;top:498.00px;line-height:20.0px;font-size:12.4px;color:#231f20;white-space:pre;transform:translateX(-50%);transform-origin:center center;">5.662</div>
<div style="position:absolute;left:291.70px;top:498.00px;line-height:20.0px;font-size:12.4px;color:#231f20;white-space:pre;transform:translateX(-50%);transform-origin:center center;">26.7</div>
<div style="position:absolute;left:343.20px;top:498.00px;line-height:20.0px;font-size:12.4px;color:#231f20;white-space:pre;transform:translateX(-50%);transform-origin:center center;">340</div>
<div style="position:absolute;left:380.55px;top:498.00px;line-height:20.0px;font-size:12.4px;color:#231f20;white-space:pre;transform:translateX(-50%);transform-origin:center center;">190</div>
<div style="position:absolute;left:417.85px;top:498.00px;line-height:20.0px;font-size:12.4px;color:#231f20;white-space:pre;transform:translateX(-50%);transform-origin:center center;">1147</div>
<div style="position:absolute;left:455.15px;top:498.00px;line-height:20.0px;font-size:12.4px;color:#231f20;white-space:pre;transform:translateX(-50%);transform-origin:center center;">880</div>
<div style="position:absolute;left:492.45px;top:498.00px;line-height:20.0px;font-size:12.4px;color:#231f20;white-space:pre;transform:translateX(-50%);transform-origin:center center;">267</div>
<div style="position:absolute;left:529.75px;top:498.00px;line-height:20.0px;font-size:12.4px;color:#231f20;white-space:pre;transform:translateX(-50%);transform-origin:center center;">230</div>
<div style="position:absolute;left:567.25px;top:498.00px;line-height:20.0px;font-size:12.4px;color:#231f20;white-space:pre;transform:translateX(-50%);transform-origin:center center;">M12</div>
<div style="position:absolute;left:606.75px;top:498.00px;line-height:20.0px;font-size:12.4px;color:#231f20;white-space:pre;transform:translateX(-50%);transform-origin:center center;">82</div>
<div style="position:absolute;left:57.70px;top:513.00px;line-height:20.0px;font-size:12.4px;color:#231f20;white-space:pre;">YHEB-150K500S</div>
<div style="position:absolute;left:186.75px;top:513.00px;line-height:20.0px;font-size:12.4px;color:#231f20;white-space:pre;transform:translateX(-50%);transform-origin:center center;">500</div>
<div style="position:absolute;left:234.90px;top:513.00px;line-height:20.0px;font-size:12.4px;color:#231f20;white-space:pre;transform:translateX(-50%);transform-origin:center center;">7.077</div>
<div style="position:absolute;left:291.70px;top:513.00px;line-height:20.0px;font-size:12.4px;color:#231f20;white-space:pre;transform:translateX(-50%);transform-origin:center center;">33.3</div>
<div style="position:absolute;left:343.20px;top:513.00px;line-height:20.0px;font-size:12.4px;color:#231f20;white-space:pre;transform:translateX(-50%);transform-origin:center center;">340</div>
<div style="position:absolute;left:380.55px;top:513.00px;line-height:20.0px;font-size:12.4px;color:#231f20;white-space:pre;transform:translateX(-50%);transform-origin:center center;">190</div>
<div style="position:absolute;left:417.85px;top:513.00px;line-height:20.0px;font-size:12.4px;color:#231f20;white-space:pre;transform:translateX(-50%);transform-origin:center center;">1347</div>
<div style="position:absolute;left:455.15px;top:513.00px;line-height:20.0px;font-size:12.4px;color:#231f20;white-space:pre;transform:translateX(-50%);transform-origin:center center;">1080</div>
<div style="position:absolute;left:492.45px;top:513.00px;line-height:20.0px;font-size:12.4px;color:#231f20;white-space:pre;transform:translateX(-50%);transform-origin:center center;">267</div>
<div style="position:absolute;left:529.75px;top:513.00px;line-height:20.0px;font-size:12.4px;color:#231f20;white-space:pre;transform:translateX(-50%);transform-origin:center center;">230</div>
<div style="position:absolute;left:567.25px;top:513.00px;line-height:20.0px;font-size:12.4px;color:#231f20;white-space:pre;transform:translateX(-50%);transform-origin:center center;">M12</div>
<div style="position:absolute;left:606.75px;top:513.00px;line-height:20.0px;font-size:12.4px;color:#231f20;white-space:pre;transform:translateX(-50%);transform-origin:center center;">100</div>
<div style="position:absolute;left:57.70px;top:527.00px;line-height:20.0px;font-size:12.4px;color:#231f20;white-space:pre;">YHEB-150K600S</div>
<div style="position:absolute;left:186.75px;top:527.00px;line-height:20.0px;font-size:12.4px;color:#231f20;white-space:pre;transform:translateX(-50%);transform-origin:center center;">600</div>
<div style="position:absolute;left:234.90px;top:527.00px;line-height:20.0px;font-size:12.4px;color:#231f20;white-space:pre;transform:translateX(-50%);transform-origin:center center;">8.493</div>
<div style="position:absolute;left:291.70px;top:527.00px;line-height:20.0px;font-size:12.4px;color:#231f20;white-space:pre;transform:translateX(-50%);transform-origin:center center;">40.0</div>
<div style="position:absolute;left:343.20px;top:527.00px;line-height:20.0px;font-size:12.4px;color:#231f20;white-space:pre;transform:translateX(-50%);transform-origin:center center;">340</div>
<div style="position:absolute;left:380.55px;top:527.00px;line-height:20.0px;font-size:12.4px;color:#231f20;white-space:pre;transform:translateX(-50%);transform-origin:center center;">190</div>
<div style="position:absolute;left:417.85px;top:527.00px;line-height:20.0px;font-size:12.4px;color:#231f20;white-space:pre;transform:translateX(-50%);transform-origin:center center;">1507</div>
<div style="position:absolute;left:455.15px;top:527.00px;line-height:20.0px;font-size:12.4px;color:#231f20;white-space:pre;transform:translateX(-50%);transform-origin:center center;">1240</div>
<div style="position:absolute;left:492.45px;top:527.00px;line-height:20.0px;font-size:12.4px;color:#231f20;white-space:pre;transform:translateX(-50%);transform-origin:center center;">267</div>
<div style="position:absolute;left:529.75px;top:527.00px;line-height:20.0px;font-size:12.4px;color:#231f20;white-space:pre;transform:translateX(-50%);transform-origin:center center;">230</div>
<div style="position:absolute;left:567.25px;top:527.00px;line-height:20.0px;font-size:12.4px;color:#231f20;white-space:pre;transform:translateX(-50%);transform-origin:center center;">M12</div>
<div style="position:absolute;left:606.75px;top:527.00px;line-height:20.0px;font-size:12.4px;color:#231f20;white-space:pre;transform:translateX(-50%);transform-origin:center center;">124</div>
<div style="position:absolute;left:57.70px;top:542.00px;line-height:20.0px;font-size:12.4px;color:#231f20;white-space:pre;">YHEB-150K700S</div>
<div style="position:absolute;left:186.75px;top:542.00px;line-height:20.0px;font-size:12.4px;color:#231f20;white-space:pre;transform:translateX(-50%);transform-origin:center center;">700</div>
<div style="position:absolute;left:234.90px;top:542.00px;line-height:20.0px;font-size:12.4px;color:#231f20;white-space:pre;transform:translateX(-50%);transform-origin:center center;">9.908</div>
<div style="position:absolute;left:291.70px;top:542.00px;line-height:20.0px;font-size:12.4px;color:#231f20;white-space:pre;transform:translateX(-50%);transform-origin:center center;">46.7</div>
<div style="position:absolute;left:343.20px;top:542.00px;line-height:20.0px;font-size:12.4px;color:#231f20;white-space:pre;transform:translateX(-50%);transform-origin:center center;">340</div>
<div style="position:absolute;left:380.55px;top:542.00px;line-height:20.0px;font-size:12.4px;color:#231f20;white-space:pre;transform:translateX(-50%);transform-origin:center center;">190</div>
<div style="position:absolute;left:417.85px;top:542.00px;line-height:20.0px;font-size:12.4px;color:#231f20;white-space:pre;transform:translateX(-50%);transform-origin:center center;">1697</div>
<div style="position:absolute;left:455.15px;top:542.00px;line-height:20.0px;font-size:12.4px;color:#231f20;white-space:pre;transform:translateX(-50%);transform-origin:center center;">1430</div>
<div style="position:absolute;left:492.45px;top:542.00px;line-height:20.0px;font-size:12.4px;color:#231f20;white-space:pre;transform:translateX(-50%);transform-origin:center center;">267</div>
<div style="position:absolute;left:529.75px;top:542.00px;line-height:20.0px;font-size:12.4px;color:#231f20;white-space:pre;transform:translateX(-50%);transform-origin:center center;">230</div>
<div style="position:absolute;left:567.25px;top:542.00px;line-height:20.0px;font-size:12.4px;color:#231f20;white-space:pre;transform:translateX(-50%);transform-origin:center center;">M12</div>
<div style="position:absolute;left:606.75px;top:542.00px;line-height:20.0px;font-size:12.4px;color:#231f20;white-space:pre;transform:translateX(-50%);transform-origin:center center;">144</div>
<div style="position:absolute;left:57.70px;top:557.00px;line-height:20.0px;font-size:12.4px;color:#231f20;white-space:pre;">YHEB-150K800S</div>
<div style="position:absolute;left:186.75px;top:557.00px;line-height:20.0px;font-size:12.4px;color:#231f20;white-space:pre;transform:translateX(-50%);transform-origin:center center;">800</div>
<div style="position:absolute;left:234.90px;top:557.00px;line-height:20.0px;font-size:12.4px;color:#231f20;white-space:pre;transform:translateX(-50%);transform-origin:center center;">11.32</div>
<div style="position:absolute;left:291.70px;top:557.00px;line-height:20.0px;font-size:12.4px;color:#231f20;white-space:pre;transform:translateX(-50%);transform-origin:center center;">53.3</div>
<div style="position:absolute;left:343.20px;top:557.00px;line-height:20.0px;font-size:12.4px;color:#231f20;white-space:pre;transform:translateX(-50%);transform-origin:center center;">340</div>
<div style="position:absolute;left:380.55px;top:557.00px;line-height:20.0px;font-size:12.4px;color:#231f20;white-space:pre;transform:translateX(-50%);transform-origin:center center;">190</div>
<div style="position:absolute;left:417.85px;top:557.00px;line-height:20.0px;font-size:12.4px;color:#231f20;white-space:pre;transform:translateX(-50%);transform-origin:center center;">1897</div>
<div style="position:absolute;left:455.15px;top:557.00px;line-height:20.0px;font-size:12.4px;color:#231f20;white-space:pre;transform:translateX(-50%);transform-origin:center center;">1620</div>
<div style="position:absolute;left:492.45px;top:557.00px;line-height:20.0px;font-size:12.4px;color:#231f20;white-space:pre;transform:translateX(-50%);transform-origin:center center;">277</div>
<div style="position:absolute;left:529.75px;top:557.00px;line-height:20.0px;font-size:12.4px;color:#231f20;white-space:pre;transform:translateX(-50%);transform-origin:center center;">230</div>
<div style="position:absolute;left:567.25px;top:557.00px;line-height:20.0px;font-size:12.4px;color:#231f20;white-space:pre;transform:translateX(-50%);transform-origin:center center;">M12</div>
<div style="position:absolute;left:606.75px;top:557.00px;line-height:20.0px;font-size:12.4px;color:#231f20;white-space:pre;transform:translateX(-50%);transform-origin:center center;">166</div>
<div style="position:absolute;left:57.70px;top:572.00px;line-height:20.0px;font-size:12.4px;color:#231f20;white-space:pre;">YHEB-150K900S</div>
<div style="position:absolute;left:186.75px;top:572.00px;line-height:20.0px;font-size:12.4px;color:#231f20;white-space:pre;transform:translateX(-50%);transform-origin:center center;">900</div>
<div style="position:absolute;left:234.90px;top:572.00px;line-height:20.0px;font-size:12.4px;color:#231f20;white-space:pre;transform:translateX(-50%);transform-origin:center center;">12.74</div>
<div style="position:absolute;left:291.70px;top:572.00px;line-height:20.0px;font-size:12.4px;color:#231f20;white-space:pre;transform:translateX(-50%);transform-origin:center center;">60.0</div>
<div style="position:absolute;left:343.20px;top:572.00px;line-height:20.0px;font-size:12.4px;color:#231f20;white-space:pre;transform:translateX(-50%);transform-origin:center center;">340</div>
<div style="position:absolute;left:380.55px;top:572.00px;line-height:20.0px;font-size:12.4px;color:#231f20;white-space:pre;transform:translateX(-50%);transform-origin:center center;">190</div>
<div style="position:absolute;left:417.85px;top:572.00px;line-height:20.0px;font-size:12.4px;color:#231f20;white-space:pre;transform:translateX(-50%);transform-origin:center center;">2087</div>
<div style="position:absolute;left:455.15px;top:572.00px;line-height:20.0px;font-size:12.4px;color:#231f20;white-space:pre;transform:translateX(-50%);transform-origin:center center;">1810</div>
<div style="position:absolute;left:492.45px;top:572.00px;line-height:20.0px;font-size:12.4px;color:#231f20;white-space:pre;transform:translateX(-50%);transform-origin:center center;">277</div>
<div style="position:absolute;left:529.75px;top:572.00px;line-height:20.0px;font-size:12.4px;color:#231f20;white-space:pre;transform:translateX(-50%);transform-origin:center center;">230</div>
<div style="position:absolute;left:567.25px;top:572.00px;line-height:20.0px;font-size:12.4px;color:#231f20;white-space:pre;transform:translateX(-50%);transform-origin:center center;">M12</div>
<div style="position:absolute;left:606.75px;top:572.00px;line-height:20.0px;font-size:12.4px;color:#231f20;white-space:pre;transform:translateX(-50%);transform-origin:center center;">186</div>
<div style="position:absolute;left:57.70px;top:587.00px;line-height:20.0px;font-size:12.4px;color:#231f20;white-space:pre;">YHEB-150K1000S</div>
<div style="position:absolute;left:186.75px;top:587.00px;line-height:20.0px;font-size:12.4px;color:#231f20;white-space:pre;transform:translateX(-50%);transform-origin:center center;">1000</div>
<div style="position:absolute;left:234.90px;top:587.00px;line-height:20.0px;font-size:12.4px;color:#231f20;white-space:pre;transform:translateX(-50%);transform-origin:center center;">14.15</div>
<div style="position:absolute;left:291.70px;top:587.00px;line-height:20.0px;font-size:12.4px;color:#231f20;white-space:pre;transform:translateX(-50%);transform-origin:center center;">66.7</div>
<div style="position:absolute;left:343.20px;top:587.00px;line-height:20.0px;font-size:12.4px;color:#231f20;white-space:pre;transform:translateX(-50%);transform-origin:center center;">340</div>
<div style="position:absolute;left:380.55px;top:587.00px;line-height:20.0px;font-size:12.4px;color:#231f20;white-space:pre;transform:translateX(-50%);transform-origin:center center;">190</div>
<div style="position:absolute;left:417.85px;top:587.00px;line-height:20.0px;font-size:12.4px;color:#231f20;white-space:pre;transform:translateX(-50%);transform-origin:center center;">2277</div>
<div style="position:absolute;left:455.15px;top:587.00px;line-height:20.0px;font-size:12.4px;color:#231f20;white-space:pre;transform:translateX(-50%);transform-origin:center center;">2000</div>
<div style="position:absolute;left:492.45px;top:587.00px;line-height:20.0px;font-size:12.4px;color:#231f20;white-space:pre;transform:translateX(-50%);transform-origin:center center;">277</div>
<div style="position:absolute;left:529.75px;top:587.00px;line-height:20.0px;font-size:12.4px;color:#231f20;white-space:pre;transform:translateX(-50%);transform-origin:center center;">230</div>
<div style="position:absolute;left:567.25px;top:587.00px;line-height:20.0px;font-size:12.4px;color:#231f20;white-space:pre;transform:translateX(-50%);transform-origin:center center;">M12</div>
<div style="position:absolute;left:606.75px;top:587.00px;line-height:20.0px;font-size:12.4px;color:#231f20;white-space:pre;transform:translateX(-50%);transform-origin:center center;">206</div>
<div style="position:absolute;left:659.30px;top:497.00px;line-height:20.0px;font-size:12.3px;color:#3e3a39;white-space:pre;transform:translateX(-50%);transform-origin:center center;">圖一</div>
<div style="position:absolute;left:658.90px;top:516.00px;line-height:20.0px;font-size:12.3px;color:#3e3a39;white-space:pre;transform:translateX(-50%);transform-origin:center center;">Fig.1</div>
<div style="position:absolute;left:72.60px;top:614.00px;line-height:20.0px;font-size:15px;color:#fff;white-space:pre;font-weight:bold;">22kV 1Ø 50Hz</div>
<div style="position:absolute;left:106.30px;top:653.00px;line-height:20.0px;font-size:12.3px;color:#3e3a39;white-space:pre;transform:translateX(-50%);transform-origin:center center;">型　式</div>
<div style="position:absolute;left:106.00px;top:667.00px;line-height:20.0px;font-size:12.6px;color:#3e3a39;white-space:pre;transform:translateX(-50%);transform-origin:center center;">Type</div>
<div style="position:absolute;left:210.30px;top:638.00px;line-height:20.0px;font-size:12.3px;color:#3e3a39;white-space:pre;transform:translateX(-50%);transform-origin:center center;">額定容量</div>
<div style="position:absolute;left:210.80px;top:651.00px;line-height:20.0px;font-size:12.6px;color:#3e3a39;white-space:pre;transform:translateX(-50%);transform-origin:center center;">Capacity</div>
<div style="position:absolute;left:186.75px;top:675.00px;line-height:20.0px;font-size:12.6px;color:#3e3a39;white-space:pre;transform:translateX(-50%);transform-origin:center center;">kVAR</div>
<div style="position:absolute;left:235.60px;top:675.00px;line-height:20.0px;font-size:12.6px;color:#3e3a39;white-space:pre;transform:translateX(-50%);transform-origin:center center;"><span style="font-size:10.5px;margin-left:1px">μ</span> F</div>
<div style="position:absolute;left:291.70px;top:647.00px;line-height:20.0px;font-size:12.3px;color:#3e3a39;white-space:pre;transform:translateX(-50%);transform-origin:center center;">額定電流</div>
<div style="position:absolute;left:291.70px;top:661.00px;line-height:20.0px;font-size:12.6px;color:#3e3a39;white-space:pre;transform:translateX(-50%);transform-origin:center center;">Current</div>
<div style="position:absolute;left:291.70px;top:675.00px;line-height:20.0px;font-size:12.6px;color:#3e3a39;white-space:pre;transform:translateX(-50%);transform-origin:center center;">(A)</div>
<div style="position:absolute;left:437.30px;top:637.00px;line-height:20.0px;font-size:12.3px;color:#3e3a39;white-space:pre;transform:translateX(-50%);transform-origin:center center;">尺</div>
<div style="position:absolute;left:474.80px;top:637.00px;line-height:20.0px;font-size:12.3px;color:#3e3a39;white-space:pre;transform:translateX(-50%);transform-origin:center center;">寸</div>
<div style="position:absolute;left:455.30px;top:651.00px;line-height:20.0px;font-size:12.6px;color:#3e3a39;white-space:pre;transform:translateX(-50%);transform-origin:center center;">Size (mm)</div>
<div style="position:absolute;left:343.20px;top:674.00px;line-height:20.0px;font-size:12.6px;color:#3e3a39;white-space:pre;transform:translateX(-50%);transform-origin:center center;">A</div>
<div style="position:absolute;left:380.55px;top:674.00px;line-height:20.0px;font-size:12.6px;color:#3e3a39;white-space:pre;transform:translateX(-50%);transform-origin:center center;">B</div>
<div style="position:absolute;left:417.85px;top:674.00px;line-height:20.0px;font-size:12.6px;color:#3e3a39;white-space:pre;transform:translateX(-50%);transform-origin:center center;">C</div>
<div style="position:absolute;left:455.15px;top:674.00px;line-height:20.0px;font-size:12.6px;color:#3e3a39;white-space:pre;transform:translateX(-50%);transform-origin:center center;">D</div>
<div style="position:absolute;left:492.45px;top:674.00px;line-height:20.0px;font-size:12.6px;color:#3e3a39;white-space:pre;transform:translateX(-50%);transform-origin:center center;">E</div>
<div style="position:absolute;left:529.75px;top:674.00px;line-height:20.0px;font-size:12.6px;color:#3e3a39;white-space:pre;transform:translateX(-50%);transform-origin:center center;">S</div>
<div style="position:absolute;left:567.25px;top:638.00px;line-height:20.0px;font-size:12.3px;color:#3e3a39;white-space:pre;transform:translateX(-50%);transform-origin:center center;">接線</div>
<div style="position:absolute;left:567.25px;top:652.00px;line-height:20.0px;font-size:12.3px;color:#3e3a39;white-space:pre;transform:translateX(-50%);transform-origin:center center;">端子</div>
<div style="position:absolute;left:567.25px;top:665.00px;line-height:20.0px;font-size:10.8px;color:#3e3a39;white-space:pre;transform:translateX(-50%) scaleX(0.78);transform-origin:center center;">Line</div>
<div style="position:absolute;left:567.25px;top:679.00px;line-height:20.0px;font-size:10.8px;color:#3e3a39;white-space:pre;transform:translateX(-50%) scaleX(0.78);transform-origin:center center;">terminals</div>
<div style="position:absolute;left:606.75px;top:646.00px;line-height:20.0px;font-size:12.6px;color:#3e3a39;white-space:pre;transform:translateX(-50%);transform-origin:center center;">概略</div>
<div style="position:absolute;left:606.75px;top:661.00px;line-height:20.0px;font-size:12.6px;color:#3e3a39;white-space:pre;transform:translateX(-50%);transform-origin:center center;">重量</div>
<div style="position:absolute;left:606.75px;top:675.00px;line-height:20.0px;font-size:12.6px;color:#3e3a39;white-space:pre;transform:translateX(-50%);transform-origin:center center;">kg</div>
<div style="position:absolute;left:658.80px;top:654.00px;line-height:20.0px;font-size:12.3px;color:#3e3a39;white-space:pre;transform:translateX(-50%);transform-origin:center center;">參考圖</div>
<div style="position:absolute;left:659.10px;top:668.00px;line-height:20.0px;font-size:12.6px;color:#3e3a39;white-space:pre;transform:translateX(-50%);transform-origin:center center;">Diagram</div>
<div style="position:absolute;left:57.70px;top:698.00px;line-height:20.0px;font-size:12.4px;color:#231f20;white-space:pre;">YHEB-220K100S</div>
<div style="position:absolute;left:186.75px;top:698.00px;line-height:20.0px;font-size:12.4px;color:#231f20;white-space:pre;transform:translateX(-50%);transform-origin:center center;">100</div>
<div style="position:absolute;left:234.90px;top:698.00px;line-height:20.0px;font-size:12.4px;color:#231f20;white-space:pre;transform:translateX(-50%);transform-origin:center center;">0.658</div>
<div style="position:absolute;left:291.70px;top:698.00px;line-height:20.0px;font-size:12.4px;color:#231f20;white-space:pre;transform:translateX(-50%);transform-origin:center center;">4.55</div>
<div style="position:absolute;left:343.20px;top:698.00px;line-height:20.0px;font-size:12.4px;color:#231f20;white-space:pre;transform:translateX(-50%);transform-origin:center center;">340</div>
<div style="position:absolute;left:380.55px;top:698.00px;line-height:20.0px;font-size:12.4px;color:#231f20;white-space:pre;transform:translateX(-50%);transform-origin:center center;">135</div>
<div style="position:absolute;left:417.85px;top:698.00px;line-height:20.0px;font-size:12.4px;color:#231f20;white-space:pre;transform:translateX(-50%);transform-origin:center center;">687</div>
<div style="position:absolute;left:455.15px;top:698.00px;line-height:20.0px;font-size:12.4px;color:#231f20;white-space:pre;transform:translateX(-50%);transform-origin:center center;">420</div>
<div style="position:absolute;left:492.45px;top:698.00px;line-height:20.0px;font-size:12.4px;color:#231f20;white-space:pre;transform:translateX(-50%);transform-origin:center center;">267</div>
<div style="position:absolute;left:529.75px;top:698.00px;line-height:20.0px;font-size:12.4px;color:#231f20;white-space:pre;transform:translateX(-50%);transform-origin:center center;">230</div>
<div style="position:absolute;left:567.25px;top:698.00px;line-height:20.0px;font-size:12.4px;color:#231f20;white-space:pre;transform:translateX(-50%);transform-origin:center center;">M12</div>
<div style="position:absolute;left:606.75px;top:698.00px;line-height:20.0px;font-size:12.4px;color:#231f20;white-space:pre;transform:translateX(-50%);transform-origin:center center;">32</div>
<div style="position:absolute;left:57.70px;top:712.00px;line-height:20.0px;font-size:12.4px;color:#231f20;white-space:pre;">YHEB-220K150S</div>
<div style="position:absolute;left:186.75px;top:712.00px;line-height:20.0px;font-size:12.4px;color:#231f20;white-space:pre;transform:translateX(-50%);transform-origin:center center;">150</div>
<div style="position:absolute;left:234.90px;top:712.00px;line-height:20.0px;font-size:12.4px;color:#231f20;white-space:pre;transform:translateX(-50%);transform-origin:center center;">0.987</div>
<div style="position:absolute;left:291.70px;top:712.00px;line-height:20.0px;font-size:12.4px;color:#231f20;white-space:pre;transform:translateX(-50%);transform-origin:center center;">6.82</div>
<div style="position:absolute;left:343.20px;top:712.00px;line-height:20.0px;font-size:12.4px;color:#231f20;white-space:pre;transform:translateX(-50%);transform-origin:center center;">340</div>
<div style="position:absolute;left:380.55px;top:712.00px;line-height:20.0px;font-size:12.4px;color:#231f20;white-space:pre;transform:translateX(-50%);transform-origin:center center;">135</div>
<div style="position:absolute;left:417.85px;top:712.00px;line-height:20.0px;font-size:12.4px;color:#231f20;white-space:pre;transform:translateX(-50%);transform-origin:center center;">867</div>
<div style="position:absolute;left:455.15px;top:712.00px;line-height:20.0px;font-size:12.4px;color:#231f20;white-space:pre;transform:translateX(-50%);transform-origin:center center;">600</div>
<div style="position:absolute;left:492.45px;top:712.00px;line-height:20.0px;font-size:12.4px;color:#231f20;white-space:pre;transform:translateX(-50%);transform-origin:center center;">267</div>
<div style="position:absolute;left:529.75px;top:712.00px;line-height:20.0px;font-size:12.4px;color:#231f20;white-space:pre;transform:translateX(-50%);transform-origin:center center;">230</div>
<div style="position:absolute;left:567.25px;top:712.00px;line-height:20.0px;font-size:12.4px;color:#231f20;white-space:pre;transform:translateX(-50%);transform-origin:center center;">M12</div>
<div style="position:absolute;left:606.75px;top:712.00px;line-height:20.0px;font-size:12.4px;color:#231f20;white-space:pre;transform:translateX(-50%);transform-origin:center center;">42</div>
<div style="position:absolute;left:57.70px;top:727.00px;line-height:20.0px;font-size:12.4px;color:#231f20;white-space:pre;">YHEB-220K200S</div>
<div style="position:absolute;left:186.75px;top:727.00px;line-height:20.0px;font-size:12.4px;color:#231f20;white-space:pre;transform:translateX(-50%);transform-origin:center center;">200</div>
<div style="position:absolute;left:234.90px;top:727.00px;line-height:20.0px;font-size:12.4px;color:#231f20;white-space:pre;transform:translateX(-50%);transform-origin:center center;">1.316</div>
<div style="position:absolute;left:291.70px;top:727.00px;line-height:20.0px;font-size:12.4px;color:#231f20;white-space:pre;transform:translateX(-50%);transform-origin:center center;">9.09</div>
<div style="position:absolute;left:343.20px;top:727.00px;line-height:20.0px;font-size:12.4px;color:#231f20;white-space:pre;transform:translateX(-50%);transform-origin:center center;">340</div>
<div style="position:absolute;left:380.55px;top:727.00px;line-height:20.0px;font-size:12.4px;color:#231f20;white-space:pre;transform:translateX(-50%);transform-origin:center center;">180</div>
<div style="position:absolute;left:417.85px;top:727.00px;line-height:20.0px;font-size:12.4px;color:#231f20;white-space:pre;transform:translateX(-50%);transform-origin:center center;">867</div>
<div style="position:absolute;left:455.15px;top:727.00px;line-height:20.0px;font-size:12.4px;color:#231f20;white-space:pre;transform:translateX(-50%);transform-origin:center center;">600</div>
<div style="position:absolute;left:492.45px;top:727.00px;line-height:20.0px;font-size:12.4px;color:#231f20;white-space:pre;transform:translateX(-50%);transform-origin:center center;">267</div>
<div style="position:absolute;left:529.75px;top:727.00px;line-height:20.0px;font-size:12.4px;color:#231f20;white-space:pre;transform:translateX(-50%);transform-origin:center center;">230</div>
<div style="position:absolute;left:567.25px;top:727.00px;line-height:20.0px;font-size:12.4px;color:#231f20;white-space:pre;transform:translateX(-50%);transform-origin:center center;">M12</div>
<div style="position:absolute;left:606.75px;top:727.00px;line-height:20.0px;font-size:12.4px;color:#231f20;white-space:pre;transform:translateX(-50%);transform-origin:center center;">53</div>
<div style="position:absolute;left:57.70px;top:742.00px;line-height:20.0px;font-size:12.4px;color:#231f20;white-space:pre;">YHEB-220K300S</div>
<div style="position:absolute;left:186.75px;top:742.00px;line-height:20.0px;font-size:12.4px;color:#231f20;white-space:pre;transform:translateX(-50%);transform-origin:center center;">300</div>
<div style="position:absolute;left:234.90px;top:742.00px;line-height:20.0px;font-size:12.4px;color:#231f20;white-space:pre;transform:translateX(-50%);transform-origin:center center;">1.974</div>
<div style="position:absolute;left:291.70px;top:742.00px;line-height:20.0px;font-size:12.4px;color:#231f20;white-space:pre;transform:translateX(-50%);transform-origin:center center;">13.6</div>
<div style="position:absolute;left:343.20px;top:742.00px;line-height:20.0px;font-size:12.4px;color:#231f20;white-space:pre;transform:translateX(-50%);transform-origin:center center;">340</div>
<div style="position:absolute;left:380.55px;top:742.00px;line-height:20.0px;font-size:12.4px;color:#231f20;white-space:pre;transform:translateX(-50%);transform-origin:center center;">180</div>
<div style="position:absolute;left:417.85px;top:742.00px;line-height:20.0px;font-size:12.4px;color:#231f20;white-space:pre;transform:translateX(-50%);transform-origin:center center;">997</div>
<div style="position:absolute;left:455.15px;top:742.00px;line-height:20.0px;font-size:12.4px;color:#231f20;white-space:pre;transform:translateX(-50%);transform-origin:center center;">730</div>
<div style="position:absolute;left:492.45px;top:742.00px;line-height:20.0px;font-size:12.4px;color:#231f20;white-space:pre;transform:translateX(-50%);transform-origin:center center;">267</div>
<div style="position:absolute;left:529.75px;top:742.00px;line-height:20.0px;font-size:12.4px;color:#231f20;white-space:pre;transform:translateX(-50%);transform-origin:center center;">230</div>
<div style="position:absolute;left:567.25px;top:742.00px;line-height:20.0px;font-size:12.4px;color:#231f20;white-space:pre;transform:translateX(-50%);transform-origin:center center;">M12</div>
<div style="position:absolute;left:606.75px;top:742.00px;line-height:20.0px;font-size:12.4px;color:#231f20;white-space:pre;transform:translateX(-50%);transform-origin:center center;">66</div>
<div style="position:absolute;left:57.70px;top:757.00px;line-height:20.0px;font-size:12.4px;color:#231f20;white-space:pre;">YHEB-220K400S</div>
<div style="position:absolute;left:186.75px;top:757.00px;line-height:20.0px;font-size:12.4px;color:#231f20;white-space:pre;transform:translateX(-50%);transform-origin:center center;">400</div>
<div style="position:absolute;left:234.90px;top:757.00px;line-height:20.0px;font-size:12.4px;color:#231f20;white-space:pre;transform:translateX(-50%);transform-origin:center center;">2.632</div>
<div style="position:absolute;left:291.70px;top:757.00px;line-height:20.0px;font-size:12.4px;color:#231f20;white-space:pre;transform:translateX(-50%);transform-origin:center center;">18.2</div>
<div style="position:absolute;left:343.20px;top:757.00px;line-height:20.0px;font-size:12.4px;color:#231f20;white-space:pre;transform:translateX(-50%);transform-origin:center center;">340</div>
<div style="position:absolute;left:380.55px;top:757.00px;line-height:20.0px;font-size:12.4px;color:#231f20;white-space:pre;transform:translateX(-50%);transform-origin:center center;">190</div>
<div style="position:absolute;left:417.85px;top:757.00px;line-height:20.0px;font-size:12.4px;color:#231f20;white-space:pre;transform:translateX(-50%);transform-origin:center center;">1147</div>
<div style="position:absolute;left:455.15px;top:757.00px;line-height:20.0px;font-size:12.4px;color:#231f20;white-space:pre;transform:translateX(-50%);transform-origin:center center;">880</div>
<div style="position:absolute;left:492.45px;top:757.00px;line-height:20.0px;font-size:12.4px;color:#231f20;white-space:pre;transform:translateX(-50%);transform-origin:center center;">267</div>
<div style="position:absolute;left:529.75px;top:757.00px;line-height:20.0px;font-size:12.4px;color:#231f20;white-space:pre;transform:translateX(-50%);transform-origin:center center;">230</div>
<div style="position:absolute;left:567.25px;top:757.00px;line-height:20.0px;font-size:12.4px;color:#231f20;white-space:pre;transform:translateX(-50%);transform-origin:center center;">M12</div>
<div style="position:absolute;left:606.75px;top:757.00px;line-height:20.0px;font-size:12.4px;color:#231f20;white-space:pre;transform:translateX(-50%);transform-origin:center center;">82</div>
<div style="position:absolute;left:57.70px;top:772.00px;line-height:20.0px;font-size:12.4px;color:#231f20;white-space:pre;">YHEB-220K500S</div>
<div style="position:absolute;left:186.75px;top:772.00px;line-height:20.0px;font-size:12.4px;color:#231f20;white-space:pre;transform:translateX(-50%);transform-origin:center center;">500</div>
<div style="position:absolute;left:234.90px;top:772.00px;line-height:20.0px;font-size:12.4px;color:#231f20;white-space:pre;transform:translateX(-50%);transform-origin:center center;">3.290</div>
<div style="position:absolute;left:291.70px;top:772.00px;line-height:20.0px;font-size:12.4px;color:#231f20;white-space:pre;transform:translateX(-50%);transform-origin:center center;">22.7</div>
<div style="position:absolute;left:343.20px;top:772.00px;line-height:20.0px;font-size:12.4px;color:#231f20;white-space:pre;transform:translateX(-50%);transform-origin:center center;">340</div>
<div style="position:absolute;left:380.55px;top:772.00px;line-height:20.0px;font-size:12.4px;color:#231f20;white-space:pre;transform:translateX(-50%);transform-origin:center center;">190</div>
<div style="position:absolute;left:417.85px;top:772.00px;line-height:20.0px;font-size:12.4px;color:#231f20;white-space:pre;transform:translateX(-50%);transform-origin:center center;">1347</div>
<div style="position:absolute;left:455.15px;top:772.00px;line-height:20.0px;font-size:12.4px;color:#231f20;white-space:pre;transform:translateX(-50%);transform-origin:center center;">1080</div>
<div style="position:absolute;left:492.45px;top:772.00px;line-height:20.0px;font-size:12.4px;color:#231f20;white-space:pre;transform:translateX(-50%);transform-origin:center center;">267</div>
<div style="position:absolute;left:529.75px;top:772.00px;line-height:20.0px;font-size:12.4px;color:#231f20;white-space:pre;transform:translateX(-50%);transform-origin:center center;">230</div>
<div style="position:absolute;left:567.25px;top:772.00px;line-height:20.0px;font-size:12.4px;color:#231f20;white-space:pre;transform:translateX(-50%);transform-origin:center center;">M12</div>
<div style="position:absolute;left:606.75px;top:772.00px;line-height:20.0px;font-size:12.4px;color:#231f20;white-space:pre;transform:translateX(-50%);transform-origin:center center;">100</div>
<div style="position:absolute;left:57.70px;top:786.00px;line-height:20.0px;font-size:12.4px;color:#231f20;white-space:pre;">YHEB-220K600S</div>
<div style="position:absolute;left:186.75px;top:786.00px;line-height:20.0px;font-size:12.4px;color:#231f20;white-space:pre;transform:translateX(-50%);transform-origin:center center;">600</div>
<div style="position:absolute;left:234.90px;top:786.00px;line-height:20.0px;font-size:12.4px;color:#231f20;white-space:pre;transform:translateX(-50%);transform-origin:center center;">3.948</div>
<div style="position:absolute;left:291.70px;top:786.00px;line-height:20.0px;font-size:12.4px;color:#231f20;white-space:pre;transform:translateX(-50%);transform-origin:center center;">27.3</div>
<div style="position:absolute;left:343.20px;top:786.00px;line-height:20.0px;font-size:12.4px;color:#231f20;white-space:pre;transform:translateX(-50%);transform-origin:center center;">340</div>
<div style="position:absolute;left:380.55px;top:786.00px;line-height:20.0px;font-size:12.4px;color:#231f20;white-space:pre;transform:translateX(-50%);transform-origin:center center;">190</div>
<div style="position:absolute;left:417.85px;top:786.00px;line-height:20.0px;font-size:12.4px;color:#231f20;white-space:pre;transform:translateX(-50%);transform-origin:center center;">1507</div>
<div style="position:absolute;left:455.15px;top:786.00px;line-height:20.0px;font-size:12.4px;color:#231f20;white-space:pre;transform:translateX(-50%);transform-origin:center center;">1240</div>
<div style="position:absolute;left:492.45px;top:786.00px;line-height:20.0px;font-size:12.4px;color:#231f20;white-space:pre;transform:translateX(-50%);transform-origin:center center;">267</div>
<div style="position:absolute;left:529.75px;top:786.00px;line-height:20.0px;font-size:12.4px;color:#231f20;white-space:pre;transform:translateX(-50%);transform-origin:center center;">230</div>
<div style="position:absolute;left:567.25px;top:786.00px;line-height:20.0px;font-size:12.4px;color:#231f20;white-space:pre;transform:translateX(-50%);transform-origin:center center;">M12</div>
<div style="position:absolute;left:606.75px;top:786.00px;line-height:20.0px;font-size:12.4px;color:#231f20;white-space:pre;transform:translateX(-50%);transform-origin:center center;">124</div>
<div style="position:absolute;left:659.30px;top:732.00px;line-height:20.0px;font-size:12.3px;color:#3e3a39;white-space:pre;transform:translateX(-50%);transform-origin:center center;">圖一</div>
<div style="position:absolute;left:658.90px;top:750.00px;line-height:20.0px;font-size:12.3px;color:#3e3a39;white-space:pre;transform:translateX(-50%);transform-origin:center center;">Fig.1</div>
<div style="position:absolute;left:72.60px;top:814.00px;line-height:20.0px;font-size:15px;color:#fff;white-space:pre;font-weight:bold;">24kV 1Ø 50Hz</div>
<div style="position:absolute;left:106.30px;top:853.00px;line-height:20.0px;font-size:12.3px;color:#3e3a39;white-space:pre;transform:translateX(-50%);transform-origin:center center;">型　式</div>
<div style="position:absolute;left:106.00px;top:867.00px;line-height:20.0px;font-size:12.6px;color:#3e3a39;white-space:pre;transform:translateX(-50%);transform-origin:center center;">Type</div>
<div style="position:absolute;left:210.30px;top:838.00px;line-height:20.0px;font-size:12.3px;color:#3e3a39;white-space:pre;transform:translateX(-50%);transform-origin:center center;">額定容量</div>
<div style="position:absolute;left:210.80px;top:851.00px;line-height:20.0px;font-size:12.6px;color:#3e3a39;white-space:pre;transform:translateX(-50%);transform-origin:center center;">Capacity</div>
<div style="position:absolute;left:186.75px;top:874.00px;line-height:20.0px;font-size:12.6px;color:#3e3a39;white-space:pre;transform:translateX(-50%);transform-origin:center center;">kVAR</div>
<div style="position:absolute;left:235.60px;top:874.00px;line-height:20.0px;font-size:12.6px;color:#3e3a39;white-space:pre;transform:translateX(-50%);transform-origin:center center;"><span style="font-size:10.5px;margin-left:1px">μ</span> F</div>
<div style="position:absolute;left:291.70px;top:847.00px;line-height:20.0px;font-size:12.3px;color:#3e3a39;white-space:pre;transform:translateX(-50%);transform-origin:center center;">額定電流</div>
<div style="position:absolute;left:291.70px;top:861.00px;line-height:20.0px;font-size:12.6px;color:#3e3a39;white-space:pre;transform:translateX(-50%);transform-origin:center center;">Current</div>
<div style="position:absolute;left:291.70px;top:875.00px;line-height:20.0px;font-size:12.6px;color:#3e3a39;white-space:pre;transform:translateX(-50%);transform-origin:center center;">(A)</div>
<div style="position:absolute;left:437.30px;top:837.00px;line-height:20.0px;font-size:12.3px;color:#3e3a39;white-space:pre;transform:translateX(-50%);transform-origin:center center;">尺</div>
<div style="position:absolute;left:474.80px;top:837.00px;line-height:20.0px;font-size:12.3px;color:#3e3a39;white-space:pre;transform:translateX(-50%);transform-origin:center center;">寸</div>
<div style="position:absolute;left:455.30px;top:851.00px;line-height:20.0px;font-size:12.6px;color:#3e3a39;white-space:pre;transform:translateX(-50%);transform-origin:center center;">Size (mm)</div>
<div style="position:absolute;left:343.20px;top:874.00px;line-height:20.0px;font-size:12.6px;color:#3e3a39;white-space:pre;transform:translateX(-50%);transform-origin:center center;">A</div>
<div style="position:absolute;left:380.55px;top:874.00px;line-height:20.0px;font-size:12.6px;color:#3e3a39;white-space:pre;transform:translateX(-50%);transform-origin:center center;">B</div>
<div style="position:absolute;left:417.85px;top:874.00px;line-height:20.0px;font-size:12.6px;color:#3e3a39;white-space:pre;transform:translateX(-50%);transform-origin:center center;">C</div>
<div style="position:absolute;left:455.15px;top:874.00px;line-height:20.0px;font-size:12.6px;color:#3e3a39;white-space:pre;transform:translateX(-50%);transform-origin:center center;">D</div>
<div style="position:absolute;left:492.45px;top:874.00px;line-height:20.0px;font-size:12.6px;color:#3e3a39;white-space:pre;transform:translateX(-50%);transform-origin:center center;">E</div>
<div style="position:absolute;left:529.75px;top:874.00px;line-height:20.0px;font-size:12.6px;color:#3e3a39;white-space:pre;transform:translateX(-50%);transform-origin:center center;">S</div>
<div style="position:absolute;left:567.25px;top:838.00px;line-height:20.0px;font-size:12.3px;color:#3e3a39;white-space:pre;transform:translateX(-50%);transform-origin:center center;">接線</div>
<div style="position:absolute;left:567.25px;top:852.00px;line-height:20.0px;font-size:12.3px;color:#3e3a39;white-space:pre;transform:translateX(-50%);transform-origin:center center;">端子</div>
<div style="position:absolute;left:567.25px;top:865.00px;line-height:20.0px;font-size:10.8px;color:#3e3a39;white-space:pre;transform:translateX(-50%) scaleX(0.78);transform-origin:center center;">Line</div>
<div style="position:absolute;left:567.25px;top:879.00px;line-height:20.0px;font-size:10.8px;color:#3e3a39;white-space:pre;transform:translateX(-50%) scaleX(0.78);transform-origin:center center;">terminals</div>
<div style="position:absolute;left:606.75px;top:846.00px;line-height:20.0px;font-size:12.6px;color:#3e3a39;white-space:pre;transform:translateX(-50%);transform-origin:center center;">概略</div>
<div style="position:absolute;left:606.75px;top:861.00px;line-height:20.0px;font-size:12.6px;color:#3e3a39;white-space:pre;transform:translateX(-50%);transform-origin:center center;">重量</div>
<div style="position:absolute;left:606.75px;top:875.00px;line-height:20.0px;font-size:12.6px;color:#3e3a39;white-space:pre;transform:translateX(-50%);transform-origin:center center;">kg</div>
<div style="position:absolute;left:658.80px;top:854.00px;line-height:20.0px;font-size:12.3px;color:#3e3a39;white-space:pre;transform:translateX(-50%);transform-origin:center center;">參考圖</div>
<div style="position:absolute;left:659.10px;top:868.00px;line-height:20.0px;font-size:12.6px;color:#3e3a39;white-space:pre;transform:translateX(-50%);transform-origin:center center;">Diagram</div>
<div style="position:absolute;left:57.70px;top:897.00px;line-height:20.0px;font-size:12.4px;color:#231f20;white-space:pre;">YHEB-240K100S</div>
<div style="position:absolute;left:186.75px;top:897.00px;line-height:20.0px;font-size:12.4px;color:#231f20;white-space:pre;transform:translateX(-50%);transform-origin:center center;">100</div>
<div style="position:absolute;left:234.90px;top:897.00px;line-height:20.0px;font-size:12.4px;color:#231f20;white-space:pre;transform:translateX(-50%);transform-origin:center center;">0.553</div>
<div style="position:absolute;left:291.70px;top:897.00px;line-height:20.0px;font-size:12.4px;color:#231f20;white-space:pre;transform:translateX(-50%);transform-origin:center center;">4.17</div>
<div style="position:absolute;left:343.20px;top:897.00px;line-height:20.0px;font-size:12.4px;color:#231f20;white-space:pre;transform:translateX(-50%);transform-origin:center center;">340</div>
<div style="position:absolute;left:380.55px;top:897.00px;line-height:20.0px;font-size:12.4px;color:#231f20;white-space:pre;transform:translateX(-50%);transform-origin:center center;">135</div>
<div style="position:absolute;left:417.85px;top:897.00px;line-height:20.0px;font-size:12.4px;color:#231f20;white-space:pre;transform:translateX(-50%);transform-origin:center center;">667</div>
<div style="position:absolute;left:455.15px;top:897.00px;line-height:20.0px;font-size:12.4px;color:#231f20;white-space:pre;transform:translateX(-50%);transform-origin:center center;">400</div>
<div style="position:absolute;left:492.45px;top:897.00px;line-height:20.0px;font-size:12.4px;color:#231f20;white-space:pre;transform:translateX(-50%);transform-origin:center center;">267</div>
<div style="position:absolute;left:529.75px;top:897.00px;line-height:20.0px;font-size:12.4px;color:#231f20;white-space:pre;transform:translateX(-50%);transform-origin:center center;">230</div>
<div style="position:absolute;left:567.25px;top:897.00px;line-height:20.0px;font-size:12.4px;color:#231f20;white-space:pre;transform:translateX(-50%);transform-origin:center center;">M12</div>
<div style="position:absolute;left:606.75px;top:897.00px;line-height:20.0px;font-size:12.4px;color:#231f20;white-space:pre;transform:translateX(-50%);transform-origin:center center;">30</div>
<div style="position:absolute;left:57.70px;top:912.00px;line-height:20.0px;font-size:12.4px;color:#231f20;white-space:pre;">YHEB-240K150S</div>
<div style="position:absolute;left:186.75px;top:912.00px;line-height:20.0px;font-size:12.4px;color:#231f20;white-space:pre;transform:translateX(-50%);transform-origin:center center;">150</div>
<div style="position:absolute;left:234.90px;top:912.00px;line-height:20.0px;font-size:12.4px;color:#231f20;white-space:pre;transform:translateX(-50%);transform-origin:center center;">0.829</div>
<div style="position:absolute;left:291.70px;top:912.00px;line-height:20.0px;font-size:12.4px;color:#231f20;white-space:pre;transform:translateX(-50%);transform-origin:center center;">6.25</div>
<div style="position:absolute;left:343.20px;top:912.00px;line-height:20.0px;font-size:12.4px;color:#231f20;white-space:pre;transform:translateX(-50%);transform-origin:center center;">340</div>
<div style="position:absolute;left:380.55px;top:912.00px;line-height:20.0px;font-size:12.4px;color:#231f20;white-space:pre;transform:translateX(-50%);transform-origin:center center;">135</div>
<div style="position:absolute;left:417.85px;top:912.00px;line-height:20.0px;font-size:12.4px;color:#231f20;white-space:pre;transform:translateX(-50%);transform-origin:center center;">827</div>
<div style="position:absolute;left:455.15px;top:912.00px;line-height:20.0px;font-size:12.4px;color:#231f20;white-space:pre;transform:translateX(-50%);transform-origin:center center;">560</div>
<div style="position:absolute;left:492.45px;top:912.00px;line-height:20.0px;font-size:12.4px;color:#231f20;white-space:pre;transform:translateX(-50%);transform-origin:center center;">267</div>
<div style="position:absolute;left:529.75px;top:912.00px;line-height:20.0px;font-size:12.4px;color:#231f20;white-space:pre;transform:translateX(-50%);transform-origin:center center;">230</div>
<div style="position:absolute;left:567.25px;top:912.00px;line-height:20.0px;font-size:12.4px;color:#231f20;white-space:pre;transform:translateX(-50%);transform-origin:center center;">M12</div>
<div style="position:absolute;left:606.75px;top:912.00px;line-height:20.0px;font-size:12.4px;color:#231f20;white-space:pre;transform:translateX(-50%);transform-origin:center center;">40</div>
<div style="position:absolute;left:57.70px;top:927.00px;line-height:20.0px;font-size:12.4px;color:#231f20;white-space:pre;">YHEB-240K200S</div>
<div style="position:absolute;left:186.75px;top:927.00px;line-height:20.0px;font-size:12.4px;color:#231f20;white-space:pre;transform:translateX(-50%);transform-origin:center center;">200</div>
<div style="position:absolute;left:234.90px;top:927.00px;line-height:20.0px;font-size:12.4px;color:#231f20;white-space:pre;transform:translateX(-50%);transform-origin:center center;">1.106</div>
<div style="position:absolute;left:291.70px;top:927.00px;line-height:20.0px;font-size:12.4px;color:#231f20;white-space:pre;transform:translateX(-50%);transform-origin:center center;">8.33</div>
<div style="position:absolute;left:343.20px;top:927.00px;line-height:20.0px;font-size:12.4px;color:#231f20;white-space:pre;transform:translateX(-50%);transform-origin:center center;">340</div>
<div style="position:absolute;left:380.55px;top:927.00px;line-height:20.0px;font-size:12.4px;color:#231f20;white-space:pre;transform:translateX(-50%);transform-origin:center center;">180</div>
<div style="position:absolute;left:417.85px;top:927.00px;line-height:20.0px;font-size:12.4px;color:#231f20;white-space:pre;transform:translateX(-50%);transform-origin:center center;">827</div>
<div style="position:absolute;left:455.15px;top:927.00px;line-height:20.0px;font-size:12.4px;color:#231f20;white-space:pre;transform:translateX(-50%);transform-origin:center center;">560</div>
<div style="position:absolute;left:492.45px;top:927.00px;line-height:20.0px;font-size:12.4px;color:#231f20;white-space:pre;transform:translateX(-50%);transform-origin:center center;">267</div>
<div style="position:absolute;left:529.75px;top:927.00px;line-height:20.0px;font-size:12.4px;color:#231f20;white-space:pre;transform:translateX(-50%);transform-origin:center center;">230</div>
<div style="position:absolute;left:567.25px;top:927.00px;line-height:20.0px;font-size:12.4px;color:#231f20;white-space:pre;transform:translateX(-50%);transform-origin:center center;">M12</div>
<div style="position:absolute;left:606.75px;top:927.00px;line-height:20.0px;font-size:12.4px;color:#231f20;white-space:pre;transform:translateX(-50%);transform-origin:center center;">50</div>
<div style="position:absolute;left:57.70px;top:942.00px;line-height:20.0px;font-size:12.4px;color:#231f20;white-space:pre;">YHEB-240K300S</div>
<div style="position:absolute;left:186.75px;top:942.00px;line-height:20.0px;font-size:12.4px;color:#231f20;white-space:pre;transform:translateX(-50%);transform-origin:center center;">300</div>
<div style="position:absolute;left:234.90px;top:942.00px;line-height:20.0px;font-size:12.4px;color:#231f20;white-space:pre;transform:translateX(-50%);transform-origin:center center;">1.659</div>
<div style="position:absolute;left:291.70px;top:942.00px;line-height:20.0px;font-size:12.4px;color:#231f20;white-space:pre;transform:translateX(-50%);transform-origin:center center;">12.5</div>
<div style="position:absolute;left:343.20px;top:942.00px;line-height:20.0px;font-size:12.4px;color:#231f20;white-space:pre;transform:translateX(-50%);transform-origin:center center;">340</div>
<div style="position:absolute;left:380.55px;top:942.00px;line-height:20.0px;font-size:12.4px;color:#231f20;white-space:pre;transform:translateX(-50%);transform-origin:center center;">180</div>
<div style="position:absolute;left:417.85px;top:942.00px;line-height:20.0px;font-size:12.4px;color:#231f20;white-space:pre;transform:translateX(-50%);transform-origin:center center;">997</div>
<div style="position:absolute;left:455.15px;top:942.00px;line-height:20.0px;font-size:12.4px;color:#231f20;white-space:pre;transform:translateX(-50%);transform-origin:center center;">730</div>
<div style="position:absolute;left:492.45px;top:942.00px;line-height:20.0px;font-size:12.4px;color:#231f20;white-space:pre;transform:translateX(-50%);transform-origin:center center;">267</div>
<div style="position:absolute;left:529.75px;top:942.00px;line-height:20.0px;font-size:12.4px;color:#231f20;white-space:pre;transform:translateX(-50%);transform-origin:center center;">230</div>
<div style="position:absolute;left:567.25px;top:942.00px;line-height:20.0px;font-size:12.4px;color:#231f20;white-space:pre;transform:translateX(-50%);transform-origin:center center;">M12</div>
<div style="position:absolute;left:606.75px;top:942.00px;line-height:20.0px;font-size:12.4px;color:#231f20;white-space:pre;transform:translateX(-50%);transform-origin:center center;">66</div>
<div style="position:absolute;left:57.70px;top:956.00px;line-height:20.0px;font-size:12.4px;color:#231f20;white-space:pre;">YHEB-240K400S</div>
<div style="position:absolute;left:186.75px;top:956.00px;line-height:20.0px;font-size:12.4px;color:#231f20;white-space:pre;transform:translateX(-50%);transform-origin:center center;">400</div>
<div style="position:absolute;left:234.90px;top:956.00px;line-height:20.0px;font-size:12.4px;color:#231f20;white-space:pre;transform:translateX(-50%);transform-origin:center center;">2.212</div>
<div style="position:absolute;left:291.70px;top:956.00px;line-height:20.0px;font-size:12.4px;color:#231f20;white-space:pre;transform:translateX(-50%);transform-origin:center center;">16.7</div>
<div style="position:absolute;left:343.20px;top:956.00px;line-height:20.0px;font-size:12.4px;color:#231f20;white-space:pre;transform:translateX(-50%);transform-origin:center center;">340</div>
<div style="position:absolute;left:380.55px;top:956.00px;line-height:20.0px;font-size:12.4px;color:#231f20;white-space:pre;transform:translateX(-50%);transform-origin:center center;">190</div>
<div style="position:absolute;left:417.85px;top:956.00px;line-height:20.0px;font-size:12.4px;color:#231f20;white-space:pre;transform:translateX(-50%);transform-origin:center center;">1147</div>
<div style="position:absolute;left:455.15px;top:956.00px;line-height:20.0px;font-size:12.4px;color:#231f20;white-space:pre;transform:translateX(-50%);transform-origin:center center;">880</div>
<div style="position:absolute;left:492.45px;top:956.00px;line-height:20.0px;font-size:12.4px;color:#231f20;white-space:pre;transform:translateX(-50%);transform-origin:center center;">267</div>
<div style="position:absolute;left:529.75px;top:956.00px;line-height:20.0px;font-size:12.4px;color:#231f20;white-space:pre;transform:translateX(-50%);transform-origin:center center;">230</div>
<div style="position:absolute;left:567.25px;top:956.00px;line-height:20.0px;font-size:12.4px;color:#231f20;white-space:pre;transform:translateX(-50%);transform-origin:center center;">M12</div>
<div style="position:absolute;left:606.75px;top:956.00px;line-height:20.0px;font-size:12.4px;color:#231f20;white-space:pre;transform:translateX(-50%);transform-origin:center center;">82</div>
<div style="position:absolute;left:57.70px;top:971.00px;line-height:20.0px;font-size:12.4px;color:#231f20;white-space:pre;">YHEB-240K500S</div>
<div style="position:absolute;left:186.75px;top:971.00px;line-height:20.0px;font-size:12.4px;color:#231f20;white-space:pre;transform:translateX(-50%);transform-origin:center center;">500</div>
<div style="position:absolute;left:234.90px;top:971.00px;line-height:20.0px;font-size:12.4px;color:#231f20;white-space:pre;transform:translateX(-50%);transform-origin:center center;">2.765</div>
<div style="position:absolute;left:291.70px;top:971.00px;line-height:20.0px;font-size:12.4px;color:#231f20;white-space:pre;transform:translateX(-50%);transform-origin:center center;">20.8</div>
<div style="position:absolute;left:343.20px;top:971.00px;line-height:20.0px;font-size:12.4px;color:#231f20;white-space:pre;transform:translateX(-50%);transform-origin:center center;">340</div>
<div style="position:absolute;left:380.55px;top:971.00px;line-height:20.0px;font-size:12.4px;color:#231f20;white-space:pre;transform:translateX(-50%);transform-origin:center center;">190</div>
<div style="position:absolute;left:417.85px;top:971.00px;line-height:20.0px;font-size:12.4px;color:#231f20;white-space:pre;transform:translateX(-50%);transform-origin:center center;">1347</div>
<div style="position:absolute;left:455.15px;top:971.00px;line-height:20.0px;font-size:12.4px;color:#231f20;white-space:pre;transform:translateX(-50%);transform-origin:center center;">1080</div>
<div style="position:absolute;left:492.45px;top:971.00px;line-height:20.0px;font-size:12.4px;color:#231f20;white-space:pre;transform:translateX(-50%);transform-origin:center center;">267</div>
<div style="position:absolute;left:529.75px;top:971.00px;line-height:20.0px;font-size:12.4px;color:#231f20;white-space:pre;transform:translateX(-50%);transform-origin:center center;">230</div>
<div style="position:absolute;left:567.25px;top:971.00px;line-height:20.0px;font-size:12.4px;color:#231f20;white-space:pre;transform:translateX(-50%);transform-origin:center center;">M12</div>
<div style="position:absolute;left:606.75px;top:971.00px;line-height:20.0px;font-size:12.4px;color:#231f20;white-space:pre;transform:translateX(-50%);transform-origin:center center;">100</div>
<div style="position:absolute;left:57.70px;top:986.00px;line-height:20.0px;font-size:12.4px;color:#231f20;white-space:pre;">YHEB-240K600S</div>
<div style="position:absolute;left:186.75px;top:986.00px;line-height:20.0px;font-size:12.4px;color:#231f20;white-space:pre;transform:translateX(-50%);transform-origin:center center;">600</div>
<div style="position:absolute;left:234.90px;top:986.00px;line-height:20.0px;font-size:12.4px;color:#231f20;white-space:pre;transform:translateX(-50%);transform-origin:center center;">3.317</div>
<div style="position:absolute;left:291.70px;top:986.00px;line-height:20.0px;font-size:12.4px;color:#231f20;white-space:pre;transform:translateX(-50%);transform-origin:center center;">25.0</div>
<div style="position:absolute;left:343.20px;top:986.00px;line-height:20.0px;font-size:12.4px;color:#231f20;white-space:pre;transform:translateX(-50%);transform-origin:center center;">340</div>
<div style="position:absolute;left:380.55px;top:986.00px;line-height:20.0px;font-size:12.4px;color:#231f20;white-space:pre;transform:translateX(-50%);transform-origin:center center;">190</div>
<div style="position:absolute;left:417.85px;top:986.00px;line-height:20.0px;font-size:12.4px;color:#231f20;white-space:pre;transform:translateX(-50%);transform-origin:center center;">1507</div>
<div style="position:absolute;left:455.15px;top:986.00px;line-height:20.0px;font-size:12.4px;color:#231f20;white-space:pre;transform:translateX(-50%);transform-origin:center center;">1240</div>
<div style="position:absolute;left:492.45px;top:986.00px;line-height:20.0px;font-size:12.4px;color:#231f20;white-space:pre;transform:translateX(-50%);transform-origin:center center;">267</div>
<div style="position:absolute;left:529.75px;top:986.00px;line-height:20.0px;font-size:12.4px;color:#231f20;white-space:pre;transform:translateX(-50%);transform-origin:center center;">230</div>
<div style="position:absolute;left:567.25px;top:986.00px;line-height:20.0px;font-size:12.4px;color:#231f20;white-space:pre;transform:translateX(-50%);transform-origin:center center;">M12</div>
<div style="position:absolute;left:606.75px;top:986.00px;line-height:20.0px;font-size:12.4px;color:#231f20;white-space:pre;transform:translateX(-50%);transform-origin:center center;">124</div>
<div style="position:absolute;left:57.70px;top:1001.00px;line-height:20.0px;font-size:12.4px;color:#231f20;white-space:pre;">YHEB-240K700S</div>
<div style="position:absolute;left:186.75px;top:1001.00px;line-height:20.0px;font-size:12.4px;color:#231f20;white-space:pre;transform:translateX(-50%);transform-origin:center center;">700</div>
<div style="position:absolute;left:234.90px;top:1001.00px;line-height:20.0px;font-size:12.4px;color:#231f20;white-space:pre;transform:translateX(-50%);transform-origin:center center;">3.870</div>
<div style="position:absolute;left:291.70px;top:1001.00px;line-height:20.0px;font-size:12.4px;color:#231f20;white-space:pre;transform:translateX(-50%);transform-origin:center center;">29.2</div>
<div style="position:absolute;left:343.20px;top:1001.00px;line-height:20.0px;font-size:12.4px;color:#231f20;white-space:pre;transform:translateX(-50%);transform-origin:center center;">340</div>
<div style="position:absolute;left:380.55px;top:1001.00px;line-height:20.0px;font-size:12.4px;color:#231f20;white-space:pre;transform:translateX(-50%);transform-origin:center center;">190</div>
<div style="position:absolute;left:417.85px;top:1001.00px;line-height:20.0px;font-size:12.4px;color:#231f20;white-space:pre;transform:translateX(-50%);transform-origin:center center;">1697</div>
<div style="position:absolute;left:455.15px;top:1001.00px;line-height:20.0px;font-size:12.4px;color:#231f20;white-space:pre;transform:translateX(-50%);transform-origin:center center;">1430</div>
<div style="position:absolute;left:492.45px;top:1001.00px;line-height:20.0px;font-size:12.4px;color:#231f20;white-space:pre;transform:translateX(-50%);transform-origin:center center;">267</div>
<div style="position:absolute;left:529.75px;top:1001.00px;line-height:20.0px;font-size:12.4px;color:#231f20;white-space:pre;transform:translateX(-50%);transform-origin:center center;">230</div>
<div style="position:absolute;left:567.25px;top:1001.00px;line-height:20.0px;font-size:12.4px;color:#231f20;white-space:pre;transform:translateX(-50%);transform-origin:center center;">M12</div>
<div style="position:absolute;left:606.75px;top:1001.00px;line-height:20.0px;font-size:12.4px;color:#231f20;white-space:pre;transform:translateX(-50%);transform-origin:center center;">144</div>
<div style="position:absolute;left:659.30px;top:938.00px;line-height:20.0px;font-size:12.3px;color:#3e3a39;white-space:pre;transform:translateX(-50%);transform-origin:center center;">圖一</div>
<div style="position:absolute;left:658.90px;top:957.00px;line-height:20.0px;font-size:12.3px;color:#3e3a39;white-space:pre;transform:translateX(-50%);transform-origin:center center;">Fig.1</div>
<div style="position:absolute;left:698.20px;top:985.00px;line-height:20.0px;font-size:20px;color:#666;white-space:pre;font-weight:bold;transform:translateX(-50%) scaleX(0.92);transform-origin:center center;-webkit-text-stroke:0;">10</div>
</div></body></html>
